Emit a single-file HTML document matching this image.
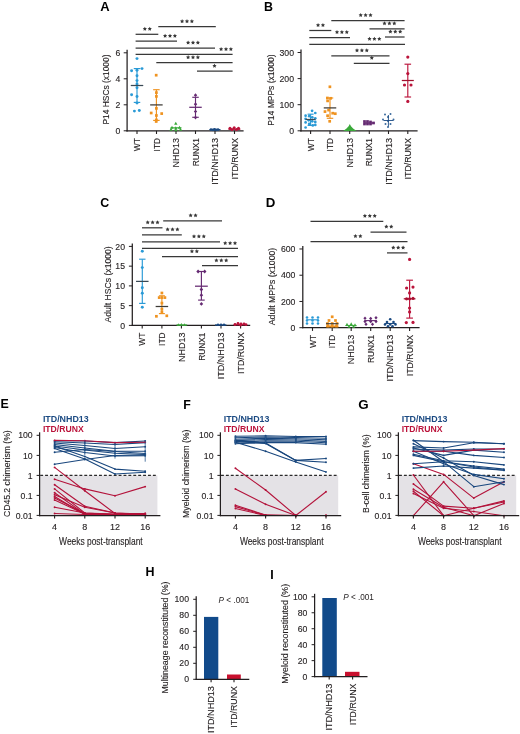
<!DOCTYPE html>
<html><head><meta charset="utf-8"><style>
html,body{margin:0;padding:0;background:#fff;}
svg{display:block;will-change:transform;font-family:"Liberation Sans", sans-serif;}
</style></head><body>
<svg width="520" height="734" viewBox="0 0 520 734">
<rect width="520" height="734" fill="#fff"/>
<text x="100.3" y="10.6" font-size="12.4" text-anchor="start" fill="#000" font-weight="bold" textLength="9.4" lengthAdjust="spacingAndGlyphs">A</text>
<text x="264" y="10.6" font-size="12.4" text-anchor="start" fill="#000" font-weight="bold">B</text>
<text x="100.2" y="206.6" font-size="12.4" text-anchor="start" fill="#000" font-weight="bold">C</text>
<text x="265.8" y="206.6" font-size="12.4" text-anchor="start" fill="#000" font-weight="bold" textLength="9.6" lengthAdjust="spacingAndGlyphs">D</text>
<text x="0.6" y="407.7" font-size="12.4" text-anchor="start" fill="#000" font-weight="bold">E</text>
<text x="183.2" y="408.6" font-size="12.4" text-anchor="start" fill="#000" font-weight="bold">F</text>
<text x="358.2" y="408.7" font-size="12.4" text-anchor="start" fill="#000" font-weight="bold" textLength="10.4" lengthAdjust="spacingAndGlyphs">G</text>
<text x="145.6" y="575.9" font-size="12.4" text-anchor="start" fill="#000" font-weight="bold" textLength="9" lengthAdjust="spacingAndGlyphs">H</text>
<text x="270.2" y="579.3" font-size="12.4" text-anchor="start" fill="#000" font-weight="bold">I</text>
<line x1="127.1" y1="49.8" x2="127.1" y2="131.4" stroke="#231f20" stroke-width="1.25" stroke-linecap="butt"/>
<line x1="126.5" y1="130.8" x2="243.6" y2="130.8" stroke="#231f20" stroke-width="1.25" stroke-linecap="butt"/>
<line x1="123.7" y1="130.8" x2="127.1" y2="130.8" stroke="#231f20" stroke-width="1.0" stroke-linecap="butt"/>
<text x="120.4" y="133.9" font-size="8.7" text-anchor="end" fill="#231f20" stroke="#231f20" stroke-width="0.12">0</text>
<line x1="123.7" y1="104.8" x2="127.1" y2="104.8" stroke="#231f20" stroke-width="1.0" stroke-linecap="butt"/>
<text x="120.4" y="107.9" font-size="8.7" text-anchor="end" fill="#231f20" stroke="#231f20" stroke-width="0.12">2</text>
<line x1="123.7" y1="78.8" x2="127.1" y2="78.8" stroke="#231f20" stroke-width="1.0" stroke-linecap="butt"/>
<text x="120.4" y="81.9" font-size="8.7" text-anchor="end" fill="#231f20" stroke="#231f20" stroke-width="0.12">4</text>
<line x1="123.7" y1="52.8" x2="127.1" y2="52.8" stroke="#231f20" stroke-width="1.0" stroke-linecap="butt"/>
<text x="120.4" y="55.9" font-size="8.7" text-anchor="end" fill="#231f20" stroke="#231f20" stroke-width="0.12">6</text>
<line x1="137" y1="130.8" x2="137" y2="134" stroke="#231f20" stroke-width="1.1" stroke-linecap="butt"/>
<line x1="156.5" y1="130.8" x2="156.5" y2="134" stroke="#231f20" stroke-width="1.1" stroke-linecap="butt"/>
<line x1="176" y1="130.8" x2="176" y2="134" stroke="#231f20" stroke-width="1.1" stroke-linecap="butt"/>
<line x1="195.5" y1="130.8" x2="195.5" y2="134" stroke="#231f20" stroke-width="1.1" stroke-linecap="butt"/>
<line x1="215" y1="130.8" x2="215" y2="134" stroke="#231f20" stroke-width="1.1" stroke-linecap="butt"/>
<line x1="234.5" y1="130.8" x2="234.5" y2="134" stroke="#231f20" stroke-width="1.1" stroke-linecap="butt"/>
<text x="140.1" y="138" font-size="8.8" text-anchor="end" fill="#231f20" transform="rotate(-90 140.1 138)" textLength="13.2" lengthAdjust="spacingAndGlyphs" stroke="#231f20" stroke-width="0.12">WT</text>
<text x="159.6" y="138" font-size="8.8" text-anchor="end" fill="#231f20" transform="rotate(-90 159.6 138)" textLength="13.4" lengthAdjust="spacingAndGlyphs" stroke="#231f20" stroke-width="0.12">ITD</text>
<text x="179.1" y="138" font-size="8.8" text-anchor="end" fill="#231f20" transform="rotate(-90 179.1 138)" textLength="29.5" lengthAdjust="spacingAndGlyphs" stroke="#231f20" stroke-width="0.12">NHD13</text>
<text x="198.6" y="138" font-size="8.8" text-anchor="end" fill="#231f20" transform="rotate(-90 198.6 138)" textLength="28.3" lengthAdjust="spacingAndGlyphs" stroke="#231f20" stroke-width="0.12">RUNX1</text>
<text x="218.1" y="138" font-size="8.8" text-anchor="end" fill="#231f20" transform="rotate(-90 218.1 138)" textLength="46.8" lengthAdjust="spacingAndGlyphs" stroke="#231f20" stroke-width="0.12">ITD/NHD13</text>
<text x="237.6" y="138" font-size="8.8" text-anchor="end" fill="#231f20" transform="rotate(-90 237.6 138)" textLength="41.4" lengthAdjust="spacingAndGlyphs" stroke="#231f20" stroke-width="0.12">ITD/RUNX</text>
<text x="108.7" y="89.5" font-size="8.4" text-anchor="middle" fill="#231f20" transform="rotate(-90 108.7 89.5)" textLength="70" lengthAdjust="spacingAndGlyphs" stroke="#231f20" stroke-width="0.12">P14 HSCs (x1000)</text>
<line x1="135.6" y1="34.3" x2="158.3" y2="34.3" stroke="#383838" stroke-width="1.25" stroke-linecap="butt"/>
<polygon points="144.85,26.8 145.5,28.11 146.94,28.32 145.9,29.34 146.14,30.78 144.85,30.1 143.56,30.78 143.8,29.34 142.76,28.32 144.2,28.11" fill="#383838"/>
<polygon points="149.75,26.8 150.4,28.11 151.84,28.32 150.8,29.34 151.04,30.78 149.75,30.1 148.46,30.78 148.7,29.34 147.66,28.32 149.1,28.11" fill="#383838"/>
<line x1="158.3" y1="26.6" x2="215.8" y2="26.6" stroke="#383838" stroke-width="1.25" stroke-linecap="butt"/>
<polygon points="182.1,19.1 182.75,20.41 184.19,20.62 183.15,21.64 183.39,23.08 182.1,22.4 180.81,23.08 181.05,21.64 180.01,20.62 181.45,20.41" fill="#383838"/>
<polygon points="187,19.1 187.65,20.41 189.09,20.62 188.05,21.64 188.29,23.08 187,22.4 185.71,23.08 185.95,21.64 184.91,20.62 186.35,20.41" fill="#383838"/>
<polygon points="191.9,19.1 192.55,20.41 193.99,20.62 192.95,21.64 193.19,23.08 191.9,22.4 190.61,23.08 190.85,21.64 189.81,20.62 191.25,20.41" fill="#383838"/>
<line x1="135.6" y1="41.2" x2="177" y2="41.2" stroke="#383838" stroke-width="1.25" stroke-linecap="butt"/>
<polygon points="165.1,33.7 165.75,35.01 167.19,35.22 166.15,36.24 166.39,37.68 165.1,37 163.81,37.68 164.05,36.24 163.01,35.22 164.45,35.01" fill="#383838"/>
<polygon points="170,33.7 170.65,35.01 172.09,35.22 171.05,36.24 171.29,37.68 170,37 168.71,37.68 168.95,36.24 167.91,35.22 169.35,35.01" fill="#383838"/>
<polygon points="174.9,33.7 175.55,35.01 176.99,35.22 175.95,36.24 176.19,37.68 174.9,37 173.61,37.68 173.85,36.24 172.81,35.22 174.25,35.01" fill="#383838"/>
<line x1="135.6" y1="48" x2="215" y2="48" stroke="#383838" stroke-width="1.25" stroke-linecap="butt"/>
<polygon points="188.1,40.5 188.75,41.81 190.19,42.02 189.15,43.04 189.39,44.48 188.1,43.8 186.81,44.48 187.05,43.04 186.01,42.02 187.45,41.81" fill="#383838"/>
<polygon points="193,40.5 193.65,41.81 195.09,42.02 194.05,43.04 194.29,44.48 193,43.8 191.71,44.48 191.95,43.04 190.91,42.02 192.35,41.81" fill="#383838"/>
<polygon points="197.9,40.5 198.55,41.81 199.99,42.02 198.95,43.04 199.19,44.48 197.9,43.8 196.61,44.48 196.85,43.04 195.81,42.02 197.25,41.81" fill="#383838"/>
<line x1="135.6" y1="54.4" x2="232.6" y2="54.4" stroke="#383838" stroke-width="1.25" stroke-linecap="butt"/>
<polygon points="221.1,46.9 221.75,48.21 223.19,48.42 222.15,49.44 222.39,50.88 221.1,50.2 219.81,50.88 220.05,49.44 219.01,48.42 220.45,48.21" fill="#383838"/>
<polygon points="226,46.9 226.65,48.21 228.09,48.42 227.05,49.44 227.29,50.88 226,50.2 224.71,50.88 224.95,49.44 223.91,48.42 225.35,48.21" fill="#383838"/>
<polygon points="230.9,46.9 231.55,48.21 232.99,48.42 231.95,49.44 232.19,50.88 230.9,50.2 229.61,50.88 229.85,49.44 228.81,48.42 230.25,48.21" fill="#383838"/>
<line x1="156.3" y1="62.6" x2="232.6" y2="62.6" stroke="#383838" stroke-width="1.25" stroke-linecap="butt"/>
<polygon points="188.1,55.1 188.75,56.41 190.19,56.62 189.15,57.64 189.39,59.08 188.1,58.4 186.81,59.08 187.05,57.64 186.01,56.62 187.45,56.41" fill="#383838"/>
<polygon points="193,55.1 193.65,56.41 195.09,56.62 194.05,57.64 194.29,59.08 193,58.4 191.71,59.08 191.95,57.64 190.91,56.62 192.35,56.41" fill="#383838"/>
<polygon points="197.9,55.1 198.55,56.41 199.99,56.62 198.95,57.64 199.19,59.08 197.9,58.4 196.61,59.08 196.85,57.64 195.81,56.62 197.25,56.41" fill="#383838"/>
<line x1="197" y1="71.2" x2="232.6" y2="71.2" stroke="#383838" stroke-width="1.25" stroke-linecap="butt"/>
<polygon points="214.5,63.7 215.15,65.01 216.59,65.22 215.55,66.24 215.79,67.68 214.5,67 213.21,67.68 213.45,66.24 212.41,65.22 213.85,65.01" fill="#383838"/>
<circle cx="137" cy="58.6" r="1.4749999999999999" fill="#2a9ad6"/>
<circle cx="131.6" cy="70.8" r="1.4749999999999999" fill="#2a9ad6"/>
<circle cx="142" cy="68.6" r="1.4749999999999999" fill="#2a9ad6"/>
<circle cx="137" cy="70.3" r="1.4749999999999999" fill="#2a9ad6"/>
<circle cx="137" cy="75.7" r="1.4749999999999999" fill="#2a9ad6"/>
<circle cx="137" cy="80.6" r="1.4749999999999999" fill="#2a9ad6"/>
<circle cx="137" cy="83.9" r="1.4749999999999999" fill="#2a9ad6"/>
<circle cx="137" cy="87.7" r="1.4749999999999999" fill="#2a9ad6"/>
<circle cx="131.6" cy="94.8" r="1.4749999999999999" fill="#2a9ad6"/>
<circle cx="137" cy="96.4" r="1.4749999999999999" fill="#2a9ad6"/>
<circle cx="137" cy="103" r="1.4749999999999999" fill="#2a9ad6"/>
<circle cx="134.4" cy="111.1" r="1.4749999999999999" fill="#2a9ad6"/>
<circle cx="139.3" cy="110.4" r="1.4749999999999999" fill="#2a9ad6"/>
<line x1="137" y1="68.6" x2="137" y2="102.4" stroke="#2a9ad6" stroke-width="1.15" stroke-linecap="butt"/>
<line x1="133.75" y1="68.6" x2="140.25" y2="68.6" stroke="#2a9ad6" stroke-width="1.15" stroke-linecap="butt"/>
<line x1="133.75" y1="102.4" x2="140.25" y2="102.4" stroke="#2a9ad6" stroke-width="1.15" stroke-linecap="butt"/>
<line x1="130.75" y1="85.5" x2="143.25" y2="85.5" stroke="#3a4a55" stroke-width="1.25" stroke-linecap="butt"/>
<rect x="154.84" y="73.84" width="2.71" height="2.71" fill="#ef9320"/>
<rect x="155.04" y="91.24" width="2.71" height="2.71" fill="#ef9320"/>
<rect x="155.04" y="95.04" width="2.71" height="2.71" fill="#ef9320"/>
<rect x="155.04" y="107.04" width="2.71" height="2.71" fill="#ef9320"/>
<rect x="149.84" y="111.64" width="2.71" height="2.71" fill="#ef9320"/>
<rect x="160.34" y="112.24" width="2.71" height="2.71" fill="#ef9320"/>
<rect x="155.04" y="114.14" width="2.71" height="2.71" fill="#ef9320"/>
<rect x="155.04" y="118.54" width="2.71" height="2.71" fill="#ef9320"/>
<rect x="154.84" y="120.14" width="2.71" height="2.71" fill="#ef9320"/>
<line x1="156.4" y1="89.7" x2="156.4" y2="120.4" stroke="#ef9320" stroke-width="1.15" stroke-linecap="butt"/>
<line x1="153.15" y1="89.7" x2="159.65" y2="89.7" stroke="#ef9320" stroke-width="1.15" stroke-linecap="butt"/>
<line x1="153.15" y1="120.4" x2="159.65" y2="120.4" stroke="#ef9320" stroke-width="1.15" stroke-linecap="butt"/>
<line x1="150.15" y1="104.9" x2="162.65" y2="104.9" stroke="#3d3a35" stroke-width="1.25" stroke-linecap="butt"/>
<polygon points="175.8,121.76 174.1,124.87 177.5,124.87" fill="#3aa93a"/>
<polygon points="172,125.66 170.3,128.77 173.7,128.77" fill="#3aa93a"/>
<polygon points="179.5,125.66 177.8,128.77 181.2,128.77" fill="#3aa93a"/>
<polygon points="175.8,126.36 174.1,129.47 177.5,129.47" fill="#3aa93a"/>
<polygon points="171,127.66 169.3,130.77 172.7,130.77" fill="#3aa93a"/>
<polygon points="180.5,127.66 178.8,130.77 182.2,130.77" fill="#3aa93a"/>
<polygon points="175.8,128.16 174.1,131.27 177.5,131.27" fill="#3aa93a"/>
<line x1="170.5" y1="127.8" x2="181.5" y2="127.8" stroke="#3aa93a" stroke-width="1.1" stroke-linecap="butt"/>
<polygon points="195.5,93.36 193.8,95.2 195.5,97.04 197.2,95.2" fill="#652a72"/>
<polygon points="195.5,102.36 193.8,104.2 195.5,106.04 197.2,104.2" fill="#652a72"/>
<polygon points="195.5,109.66 193.8,111.5 195.5,113.34 197.2,111.5" fill="#652a72"/>
<polygon points="195.5,115.76 193.8,117.6 195.5,119.44 197.2,117.6" fill="#652a72"/>
<line x1="195.5" y1="97.3" x2="195.5" y2="117.3" stroke="#652a72" stroke-width="1.15" stroke-linecap="butt"/>
<line x1="192.25" y1="97.3" x2="198.75" y2="97.3" stroke="#652a72" stroke-width="1.15" stroke-linecap="butt"/>
<line x1="192.25" y1="117.3" x2="198.75" y2="117.3" stroke="#652a72" stroke-width="1.15" stroke-linecap="butt"/>
<line x1="189.25" y1="107.3" x2="201.75" y2="107.3" stroke="#652a72" stroke-width="1.25" stroke-linecap="butt"/>
<circle cx="211" cy="129.6" r="1.3569999999999998" fill="#1b4a82"/>
<circle cx="214.5" cy="129.3" r="1.3569999999999998" fill="#1b4a82"/>
<circle cx="218" cy="129.6" r="1.3569999999999998" fill="#1b4a82"/>
<circle cx="216" cy="129.8" r="1.3569999999999998" fill="#1b4a82"/>
<circle cx="213" cy="129.8" r="1.3569999999999998" fill="#1b4a82"/>
<line x1="209.5" y1="129.6" x2="220.5" y2="129.6" stroke="#1b4a82" stroke-width="1.2" stroke-linecap="butt"/>
<circle cx="230" cy="128.3" r="1.534" fill="#bb143b"/>
<circle cx="234.2" cy="127.8" r="1.534" fill="#bb143b"/>
<circle cx="238.5" cy="128.3" r="1.534" fill="#bb143b"/>
<circle cx="232" cy="129.5" r="1.534" fill="#bb143b"/>
<circle cx="236.5" cy="129.5" r="1.534" fill="#bb143b"/>
<line x1="228.5" y1="129.3" x2="240.3" y2="129.3" stroke="#bb143b" stroke-width="1.2" stroke-linecap="butt"/>
<line x1="301" y1="49.5" x2="301" y2="131.4" stroke="#231f20" stroke-width="1.25" stroke-linecap="butt"/>
<line x1="300.4" y1="130.8" x2="417.6" y2="130.8" stroke="#231f20" stroke-width="1.25" stroke-linecap="butt"/>
<line x1="297.6" y1="130.8" x2="301" y2="130.8" stroke="#231f20" stroke-width="1.0" stroke-linecap="butt"/>
<text x="294" y="133.9" font-size="8.7" text-anchor="end" fill="#231f20" stroke="#231f20" stroke-width="0.12">0</text>
<line x1="297.6" y1="104.7" x2="301" y2="104.7" stroke="#231f20" stroke-width="1.0" stroke-linecap="butt"/>
<text x="294" y="107.8" font-size="8.7" text-anchor="end" fill="#231f20" stroke="#231f20" stroke-width="0.12">100</text>
<line x1="297.6" y1="78.6" x2="301" y2="78.6" stroke="#231f20" stroke-width="1.0" stroke-linecap="butt"/>
<text x="294" y="81.7" font-size="8.7" text-anchor="end" fill="#231f20" stroke="#231f20" stroke-width="0.12">200</text>
<line x1="297.6" y1="52.5" x2="301" y2="52.5" stroke="#231f20" stroke-width="1.0" stroke-linecap="butt"/>
<text x="294" y="55.6" font-size="8.7" text-anchor="end" fill="#231f20" stroke="#231f20" stroke-width="0.12">300</text>
<line x1="310.6" y1="130.8" x2="310.6" y2="134" stroke="#231f20" stroke-width="1.1" stroke-linecap="butt"/>
<line x1="330" y1="130.8" x2="330" y2="134" stroke="#231f20" stroke-width="1.1" stroke-linecap="butt"/>
<line x1="349.7" y1="130.8" x2="349.7" y2="134" stroke="#231f20" stroke-width="1.1" stroke-linecap="butt"/>
<line x1="369.3" y1="130.8" x2="369.3" y2="134" stroke="#231f20" stroke-width="1.1" stroke-linecap="butt"/>
<line x1="388.5" y1="130.8" x2="388.5" y2="134" stroke="#231f20" stroke-width="1.1" stroke-linecap="butt"/>
<line x1="407.8" y1="130.8" x2="407.8" y2="134" stroke="#231f20" stroke-width="1.1" stroke-linecap="butt"/>
<text x="313.7" y="138" font-size="8.8" text-anchor="end" fill="#231f20" transform="rotate(-90 313.7 138)" textLength="13.2" lengthAdjust="spacingAndGlyphs" stroke="#231f20" stroke-width="0.12">WT</text>
<text x="333.1" y="138" font-size="8.8" text-anchor="end" fill="#231f20" transform="rotate(-90 333.1 138)" textLength="13.4" lengthAdjust="spacingAndGlyphs" stroke="#231f20" stroke-width="0.12">ITD</text>
<text x="352.8" y="138" font-size="8.8" text-anchor="end" fill="#231f20" transform="rotate(-90 352.8 138)" textLength="29.5" lengthAdjust="spacingAndGlyphs" stroke="#231f20" stroke-width="0.12">NHD13</text>
<text x="372.4" y="138" font-size="8.8" text-anchor="end" fill="#231f20" transform="rotate(-90 372.4 138)" textLength="28.3" lengthAdjust="spacingAndGlyphs" stroke="#231f20" stroke-width="0.12">RUNX1</text>
<text x="391.6" y="138" font-size="8.8" text-anchor="end" fill="#231f20" transform="rotate(-90 391.6 138)" textLength="46.8" lengthAdjust="spacingAndGlyphs" stroke="#231f20" stroke-width="0.12">ITD/NHD13</text>
<text x="410.9" y="138" font-size="8.8" text-anchor="end" fill="#231f20" transform="rotate(-90 410.9 138)" textLength="41.4" lengthAdjust="spacingAndGlyphs" stroke="#231f20" stroke-width="0.12">ITD/RUNX</text>
<text x="273.6" y="90.1" font-size="8.4" text-anchor="middle" fill="#231f20" transform="rotate(-90 273.6 90.1)" textLength="71.4" lengthAdjust="spacingAndGlyphs" stroke="#231f20" stroke-width="0.12">P14 MPPs (x1000)</text>
<line x1="309.3" y1="30.5" x2="331.3" y2="30.5" stroke="#383838" stroke-width="1.25" stroke-linecap="butt"/>
<polygon points="318.05,23 318.7,24.31 320.14,24.52 319.1,25.54 319.34,26.98 318.05,26.3 316.76,26.98 317,25.54 315.96,24.52 317.4,24.31" fill="#383838"/>
<polygon points="322.95,23 323.6,24.31 325.04,24.52 324,25.54 324.24,26.98 322.95,26.3 321.66,26.98 321.9,25.54 320.86,24.52 322.3,24.31" fill="#383838"/>
<line x1="331.3" y1="20.5" x2="404.6" y2="20.5" stroke="#383838" stroke-width="1.25" stroke-linecap="butt"/>
<polygon points="360.7,13 361.35,14.31 362.79,14.52 361.75,15.54 361.99,16.98 360.7,16.3 359.41,16.98 359.65,15.54 358.61,14.52 360.05,14.31" fill="#383838"/>
<polygon points="365.6,13 366.25,14.31 367.69,14.52 366.65,15.54 366.89,16.98 365.6,16.3 364.31,16.98 364.55,15.54 363.51,14.52 364.95,14.31" fill="#383838"/>
<polygon points="370.5,13 371.15,14.31 372.59,14.52 371.55,15.54 371.79,16.98 370.5,16.3 369.21,16.98 369.45,15.54 368.41,14.52 369.85,14.31" fill="#383838"/>
<line x1="309.3" y1="37.5" x2="350" y2="37.5" stroke="#383838" stroke-width="1.25" stroke-linecap="butt"/>
<polygon points="337,30 337.65,31.31 339.09,31.52 338.05,32.54 338.29,33.98 337,33.3 335.71,33.98 335.95,32.54 334.91,31.52 336.35,31.31" fill="#383838"/>
<polygon points="341.9,30 342.55,31.31 343.99,31.52 342.95,32.54 343.19,33.98 341.9,33.3 340.61,33.98 340.85,32.54 339.81,31.52 341.25,31.31" fill="#383838"/>
<polygon points="346.8,30 347.45,31.31 348.89,31.52 347.85,32.54 348.09,33.98 346.8,33.3 345.51,33.98 345.75,32.54 344.71,31.52 346.15,31.31" fill="#383838"/>
<line x1="369.5" y1="28.8" x2="404.6" y2="28.8" stroke="#383838" stroke-width="1.25" stroke-linecap="butt"/>
<polygon points="384.5,21.3 385.15,22.61 386.59,22.82 385.55,23.84 385.79,25.28 384.5,24.6 383.21,25.28 383.45,23.84 382.41,22.82 383.85,22.61" fill="#383838"/>
<polygon points="389.4,21.3 390.05,22.61 391.49,22.82 390.45,23.84 390.69,25.28 389.4,24.6 388.11,25.28 388.35,23.84 387.31,22.82 388.75,22.61" fill="#383838"/>
<polygon points="394.3,21.3 394.95,22.61 396.39,22.82 395.35,23.84 395.59,25.28 394.3,24.6 393.01,25.28 393.25,23.84 392.21,22.82 393.65,22.61" fill="#383838"/>
<line x1="385" y1="37" x2="404.6" y2="37" stroke="#383838" stroke-width="1.25" stroke-linecap="butt"/>
<polygon points="390.4,29.5 391.05,30.81 392.49,31.02 391.45,32.04 391.69,33.48 390.4,32.8 389.11,33.48 389.35,32.04 388.31,31.02 389.75,30.81" fill="#383838"/>
<polygon points="395.3,29.5 395.95,30.81 397.39,31.02 396.35,32.04 396.59,33.48 395.3,32.8 394.01,33.48 394.25,32.04 393.21,31.02 394.65,30.81" fill="#383838"/>
<polygon points="400.2,29.5 400.85,30.81 402.29,31.02 401.25,32.04 401.49,33.48 400.2,32.8 398.91,33.48 399.15,32.04 398.11,31.02 399.55,30.81" fill="#383838"/>
<line x1="309.3" y1="44.3" x2="405" y2="44.3" stroke="#383838" stroke-width="1.25" stroke-linecap="butt"/>
<polygon points="369.5,36.8 370.15,38.11 371.59,38.32 370.55,39.34 370.79,40.78 369.5,40.1 368.21,40.78 368.45,39.34 367.41,38.32 368.85,38.11" fill="#383838"/>
<polygon points="374.4,36.8 375.05,38.11 376.49,38.32 375.45,39.34 375.69,40.78 374.4,40.1 373.11,40.78 373.35,39.34 372.31,38.32 373.75,38.11" fill="#383838"/>
<polygon points="379.3,36.8 379.95,38.11 381.39,38.32 380.35,39.34 380.59,40.78 379.3,40.1 378.01,40.78 378.25,39.34 377.21,38.32 378.65,38.11" fill="#383838"/>
<line x1="331.3" y1="55.8" x2="389.5" y2="55.8" stroke="#383838" stroke-width="1.25" stroke-linecap="butt"/>
<polygon points="357,48.3 357.65,49.61 359.09,49.82 358.05,50.84 358.29,52.28 357,51.6 355.71,52.28 355.95,50.84 354.91,49.82 356.35,49.61" fill="#383838"/>
<polygon points="361.9,48.3 362.55,49.61 363.99,49.82 362.95,50.84 363.19,52.28 361.9,51.6 360.61,52.28 360.85,50.84 359.81,49.82 361.25,49.61" fill="#383838"/>
<polygon points="366.8,48.3 367.45,49.61 368.89,49.82 367.85,50.84 368.09,52.28 366.8,51.6 365.51,52.28 365.75,50.84 364.71,49.82 366.15,49.61" fill="#383838"/>
<line x1="353.8" y1="63.3" x2="389.5" y2="63.3" stroke="#383838" stroke-width="1.25" stroke-linecap="butt"/>
<polygon points="371.8,55.8 372.45,57.11 373.89,57.32 372.85,58.34 373.09,59.78 371.8,59.1 370.51,59.78 370.75,58.34 369.71,57.32 371.15,57.11" fill="#383838"/>
<circle cx="312.1" cy="110.8" r="1.3569999999999998" fill="#2a9ad6"/>
<circle cx="315.3" cy="113" r="1.3569999999999998" fill="#2a9ad6"/>
<circle cx="305.6" cy="115.7" r="1.3569999999999998" fill="#2a9ad6"/>
<circle cx="309.2" cy="116.2" r="1.3569999999999998" fill="#2a9ad6"/>
<circle cx="312.3" cy="117.3" r="1.3569999999999998" fill="#2a9ad6"/>
<circle cx="315.3" cy="118.3" r="1.3569999999999998" fill="#2a9ad6"/>
<circle cx="305.6" cy="118.8" r="1.3569999999999998" fill="#2a9ad6"/>
<circle cx="308.7" cy="120.3" r="1.3569999999999998" fill="#2a9ad6"/>
<circle cx="312.3" cy="121.3" r="1.3569999999999998" fill="#2a9ad6"/>
<circle cx="315.3" cy="121.9" r="1.3569999999999998" fill="#2a9ad6"/>
<circle cx="305.6" cy="122.4" r="1.3569999999999998" fill="#2a9ad6"/>
<circle cx="309.2" cy="123.9" r="1.3569999999999998" fill="#2a9ad6"/>
<circle cx="312.8" cy="125.4" r="1.3569999999999998" fill="#2a9ad6"/>
<circle cx="305.6" cy="127.5" r="1.3569999999999998" fill="#2a9ad6"/>
<circle cx="315.3" cy="124.9" r="1.3569999999999998" fill="#2a9ad6"/>
<line x1="310.6" y1="114.2" x2="310.6" y2="125.4" stroke="#2a9ad6" stroke-width="1.15" stroke-linecap="butt"/>
<line x1="307.6" y1="114.2" x2="313.6" y2="114.2" stroke="#2a9ad6" stroke-width="1.15" stroke-linecap="butt"/>
<line x1="307.6" y1="125.4" x2="313.6" y2="125.4" stroke="#2a9ad6" stroke-width="1.15" stroke-linecap="butt"/>
<line x1="305.6" y1="119.5" x2="315.6" y2="119.5" stroke="#3a4a55" stroke-width="1.25" stroke-linecap="butt"/>
<rect x="328.54" y="85.44" width="2.71" height="2.71" fill="#ef9320"/>
<rect x="326.04" y="96.64" width="2.71" height="2.71" fill="#ef9320"/>
<rect x="329.34" y="96.94" width="2.71" height="2.71" fill="#ef9320"/>
<rect x="326.24" y="99.54" width="2.71" height="2.71" fill="#ef9320"/>
<rect x="323.64" y="110.24" width="2.71" height="2.71" fill="#ef9320"/>
<rect x="327.24" y="108.74" width="2.71" height="2.71" fill="#ef9320"/>
<rect x="331.34" y="111.84" width="2.71" height="2.71" fill="#ef9320"/>
<rect x="333.94" y="112.34" width="2.71" height="2.71" fill="#ef9320"/>
<rect x="326.24" y="114.34" width="2.71" height="2.71" fill="#ef9320"/>
<rect x="328.34" y="119.94" width="2.71" height="2.71" fill="#ef9320"/>
<line x1="330" y1="98" x2="330" y2="118.3" stroke="#ef9320" stroke-width="1.15" stroke-linecap="butt"/>
<line x1="326.75" y1="98" x2="333.25" y2="98" stroke="#ef9320" stroke-width="1.15" stroke-linecap="butt"/>
<line x1="326.75" y1="118.3" x2="333.25" y2="118.3" stroke="#ef9320" stroke-width="1.15" stroke-linecap="butt"/>
<line x1="323.75" y1="107.9" x2="336.25" y2="107.9" stroke="#3d3a35" stroke-width="1.25" stroke-linecap="butt"/>
<polygon points="343.2,130.9 346.5,128.4 348.6,126.2 349.8,124.0 351.0,126.2 353.1,128.4 356.6,130.9" fill="#3aa93a"/>
<rect x="363.14" y="120.14" width="2.71" height="2.71" fill="#652a72"/>
<rect x="366.14" y="120.14" width="2.71" height="2.71" fill="#652a72"/>
<rect x="369.14" y="120.64" width="2.71" height="2.71" fill="#652a72"/>
<rect x="372.14" y="121.64" width="2.71" height="2.71" fill="#652a72"/>
<rect x="363.14" y="122.64" width="2.71" height="2.71" fill="#652a72"/>
<rect x="366.14" y="122.64" width="2.71" height="2.71" fill="#652a72"/>
<rect x="369.14" y="122.64" width="2.71" height="2.71" fill="#652a72"/>
<line x1="364" y1="123" x2="374.5" y2="123" stroke="#652a72" stroke-width="1.1" stroke-linecap="butt"/>
<circle cx="385" cy="114.5" r="1.003" fill="#3a6a9e"/>
<circle cx="390.5" cy="114" r="1.003" fill="#3a6a9e"/>
<circle cx="388" cy="117" r="1.003" fill="#3a6a9e"/>
<circle cx="383" cy="119.5" r="1.003" fill="#3a6a9e"/>
<circle cx="393.5" cy="119.5" r="1.003" fill="#3a6a9e"/>
<circle cx="388" cy="121" r="1.003" fill="#3a6a9e"/>
<circle cx="385.5" cy="124" r="1.003" fill="#3a6a9e"/>
<circle cx="390.5" cy="124" r="1.003" fill="#3a6a9e"/>
<circle cx="388" cy="127" r="1.003" fill="#3a6a9e"/>
<line x1="388.4" y1="115" x2="388.4" y2="126.5" stroke="#1b4a82" stroke-width="0.9" stroke-linecap="butt"/>
<line x1="383.5" y1="120.5" x2="393.5" y2="120.5" stroke="#1b4a82" stroke-width="0.9" stroke-linecap="butt"/>
<circle cx="407.8" cy="57.1" r="1.593" fill="#bb143b"/>
<circle cx="407.8" cy="73.6" r="1.593" fill="#bb143b"/>
<circle cx="404.5" cy="85" r="1.593" fill="#bb143b"/>
<circle cx="411" cy="85" r="1.593" fill="#bb143b"/>
<circle cx="407.8" cy="101.4" r="1.593" fill="#bb143b"/>
<line x1="407.8" y1="64.2" x2="407.8" y2="97" stroke="#bb143b" stroke-width="1.15" stroke-linecap="butt"/>
<line x1="404.5" y1="64.2" x2="411.1" y2="64.2" stroke="#bb143b" stroke-width="1.15" stroke-linecap="butt"/>
<line x1="404.5" y1="97" x2="411.1" y2="97" stroke="#bb143b" stroke-width="1.15" stroke-linecap="butt"/>
<line x1="401.8" y1="80.5" x2="413.8" y2="80.5" stroke="#a0102e" stroke-width="1.25" stroke-linecap="butt"/>
<line x1="132.3" y1="243.4" x2="132.3" y2="326" stroke="#231f20" stroke-width="1.25" stroke-linecap="butt"/>
<line x1="131.7" y1="325.4" x2="250.2" y2="325.4" stroke="#231f20" stroke-width="1.25" stroke-linecap="butt"/>
<line x1="128.9" y1="325.4" x2="132.3" y2="325.4" stroke="#231f20" stroke-width="1.0" stroke-linecap="butt"/>
<text x="125" y="328.5" font-size="8.7" text-anchor="end" fill="#231f20" stroke="#231f20" stroke-width="0.12">0</text>
<line x1="128.9" y1="305.65" x2="132.3" y2="305.65" stroke="#231f20" stroke-width="1.0" stroke-linecap="butt"/>
<text x="125" y="308.75" font-size="8.7" text-anchor="end" fill="#231f20" stroke="#231f20" stroke-width="0.12">5</text>
<line x1="128.9" y1="285.9" x2="132.3" y2="285.9" stroke="#231f20" stroke-width="1.0" stroke-linecap="butt"/>
<text x="125" y="289" font-size="8.7" text-anchor="end" fill="#231f20" stroke="#231f20" stroke-width="0.12">10</text>
<line x1="128.9" y1="266.15" x2="132.3" y2="266.15" stroke="#231f20" stroke-width="1.0" stroke-linecap="butt"/>
<text x="125" y="269.25" font-size="8.7" text-anchor="end" fill="#231f20" stroke="#231f20" stroke-width="0.12">15</text>
<line x1="128.9" y1="246.4" x2="132.3" y2="246.4" stroke="#231f20" stroke-width="1.0" stroke-linecap="butt"/>
<text x="125" y="249.5" font-size="8.7" text-anchor="end" fill="#231f20" stroke="#231f20" stroke-width="0.12">20</text>
<line x1="142.2" y1="325.4" x2="142.2" y2="328.6" stroke="#231f20" stroke-width="1.1" stroke-linecap="butt"/>
<line x1="161.9" y1="325.4" x2="161.9" y2="328.6" stroke="#231f20" stroke-width="1.1" stroke-linecap="butt"/>
<line x1="181.4" y1="325.4" x2="181.4" y2="328.6" stroke="#231f20" stroke-width="1.1" stroke-linecap="butt"/>
<line x1="201.4" y1="325.4" x2="201.4" y2="328.6" stroke="#231f20" stroke-width="1.1" stroke-linecap="butt"/>
<line x1="221" y1="325.4" x2="221" y2="328.6" stroke="#231f20" stroke-width="1.1" stroke-linecap="butt"/>
<line x1="240.6" y1="325.4" x2="240.6" y2="328.6" stroke="#231f20" stroke-width="1.1" stroke-linecap="butt"/>
<text x="145.3" y="332.5" font-size="8.8" text-anchor="end" fill="#231f20" transform="rotate(-90 145.3 332.5)" textLength="13.2" lengthAdjust="spacingAndGlyphs" stroke="#231f20" stroke-width="0.12">WT</text>
<text x="165" y="332.5" font-size="8.8" text-anchor="end" fill="#231f20" transform="rotate(-90 165 332.5)" textLength="13.4" lengthAdjust="spacingAndGlyphs" stroke="#231f20" stroke-width="0.12">ITD</text>
<text x="184.5" y="332.5" font-size="8.8" text-anchor="end" fill="#231f20" transform="rotate(-90 184.5 332.5)" textLength="29.5" lengthAdjust="spacingAndGlyphs" stroke="#231f20" stroke-width="0.12">NHD13</text>
<text x="204.5" y="332.5" font-size="8.8" text-anchor="end" fill="#231f20" transform="rotate(-90 204.5 332.5)" textLength="28.3" lengthAdjust="spacingAndGlyphs" stroke="#231f20" stroke-width="0.12">RUNX1</text>
<text x="224.1" y="332.5" font-size="8.8" text-anchor="end" fill="#231f20" transform="rotate(-90 224.1 332.5)" textLength="46.8" lengthAdjust="spacingAndGlyphs" stroke="#231f20" stroke-width="0.12">ITD/NHD13</text>
<text x="243.7" y="332.5" font-size="8.8" text-anchor="end" fill="#231f20" transform="rotate(-90 243.7 332.5)" textLength="41.4" lengthAdjust="spacingAndGlyphs" stroke="#231f20" stroke-width="0.12">ITD/RUNX</text>
<text x="110.6" y="284.4" font-size="8.4" text-anchor="middle" fill="#231f20" transform="rotate(-90 110.6 284.4)" textLength="76.2" lengthAdjust="spacingAndGlyphs" stroke="#231f20" stroke-width="0.12">Adult HSCs (x1000)</text>
<line x1="142" y1="227.8" x2="162.5" y2="227.8" stroke="#383838" stroke-width="1.25" stroke-linecap="butt"/>
<polygon points="147.7,220.3 148.35,221.61 149.79,221.82 148.75,222.84 148.99,224.28 147.7,223.6 146.41,224.28 146.65,222.84 145.61,221.82 147.05,221.61" fill="#383838"/>
<polygon points="152.6,220.3 153.25,221.61 154.69,221.82 153.65,222.84 153.89,224.28 152.6,223.6 151.31,224.28 151.55,222.84 150.51,221.82 151.95,221.61" fill="#383838"/>
<polygon points="157.5,220.3 158.15,221.61 159.59,221.82 158.55,222.84 158.79,224.28 157.5,223.6 156.21,224.28 156.45,222.84 155.41,221.82 156.85,221.61" fill="#383838"/>
<line x1="163.2" y1="220.8" x2="222" y2="220.8" stroke="#383838" stroke-width="1.25" stroke-linecap="butt"/>
<polygon points="190.65,213.3 191.3,214.61 192.74,214.82 191.7,215.84 191.94,217.28 190.65,216.6 189.36,217.28 189.6,215.84 188.56,214.82 190,214.61" fill="#383838"/>
<polygon points="195.55,213.3 196.2,214.61 197.64,214.82 196.6,215.84 196.84,217.28 195.55,216.6 194.26,217.28 194.5,215.84 193.46,214.82 194.9,214.61" fill="#383838"/>
<line x1="142" y1="234.8" x2="181.8" y2="234.8" stroke="#383838" stroke-width="1.25" stroke-linecap="butt"/>
<polygon points="167.6,227.3 168.25,228.61 169.69,228.82 168.65,229.84 168.89,231.28 167.6,230.6 166.31,231.28 166.55,229.84 165.51,228.82 166.95,228.61" fill="#383838"/>
<polygon points="172.5,227.3 173.15,228.61 174.59,228.82 173.55,229.84 173.79,231.28 172.5,230.6 171.21,231.28 171.45,229.84 170.41,228.82 171.85,228.61" fill="#383838"/>
<polygon points="177.4,227.3 178.05,228.61 179.49,228.82 178.45,229.84 178.69,231.28 177.4,230.6 176.11,231.28 176.35,229.84 175.31,228.82 176.75,228.61" fill="#383838"/>
<line x1="142" y1="241.8" x2="220" y2="241.8" stroke="#383838" stroke-width="1.25" stroke-linecap="butt"/>
<polygon points="194,234.3 194.65,235.61 196.09,235.82 195.05,236.84 195.29,238.28 194,237.6 192.71,238.28 192.95,236.84 191.91,235.82 193.35,235.61" fill="#383838"/>
<polygon points="198.9,234.3 199.55,235.61 200.99,235.82 199.95,236.84 200.19,238.28 198.9,237.6 197.61,238.28 197.85,236.84 196.81,235.82 198.25,235.61" fill="#383838"/>
<polygon points="203.8,234.3 204.45,235.61 205.89,235.82 204.85,236.84 205.09,238.28 203.8,237.6 202.51,238.28 202.75,236.84 201.71,235.82 203.15,235.61" fill="#383838"/>
<line x1="142" y1="248.4" x2="238" y2="248.4" stroke="#383838" stroke-width="1.25" stroke-linecap="butt"/>
<polygon points="225.2,240.9 225.85,242.21 227.29,242.42 226.25,243.44 226.49,244.88 225.2,244.2 223.91,244.88 224.15,243.44 223.11,242.42 224.55,242.21" fill="#383838"/>
<polygon points="230.1,240.9 230.75,242.21 232.19,242.42 231.15,243.44 231.39,244.88 230.1,244.2 228.81,244.88 229.05,243.44 228.01,242.42 229.45,242.21" fill="#383838"/>
<polygon points="235,240.9 235.65,242.21 237.09,242.42 236.05,243.44 236.29,244.88 235,244.2 233.71,244.88 233.95,243.44 232.91,242.42 234.35,242.21" fill="#383838"/>
<line x1="162" y1="256.6" x2="238" y2="256.6" stroke="#383838" stroke-width="1.25" stroke-linecap="butt"/>
<polygon points="191.95,249.1 192.6,250.41 194.04,250.62 193,251.64 193.24,253.08 191.95,252.4 190.66,253.08 190.9,251.64 189.86,250.62 191.3,250.41" fill="#383838"/>
<polygon points="196.85,249.1 197.5,250.41 198.94,250.62 197.9,251.64 198.14,253.08 196.85,252.4 195.56,253.08 195.8,251.64 194.76,250.62 196.2,250.41" fill="#383838"/>
<line x1="202" y1="265.7" x2="238" y2="265.7" stroke="#383838" stroke-width="1.25" stroke-linecap="butt"/>
<polygon points="216.4,258.2 217.05,259.51 218.49,259.72 217.45,260.74 217.69,262.18 216.4,261.5 215.11,262.18 215.35,260.74 214.31,259.72 215.75,259.51" fill="#383838"/>
<polygon points="221.3,258.2 221.95,259.51 223.39,259.72 222.35,260.74 222.59,262.18 221.3,261.5 220.01,262.18 220.25,260.74 219.21,259.72 220.65,259.51" fill="#383838"/>
<polygon points="226.2,258.2 226.85,259.51 228.29,259.72 227.25,260.74 227.49,262.18 226.2,261.5 224.91,262.18 225.15,260.74 224.11,259.72 225.55,259.51" fill="#383838"/>
<circle cx="142.3" cy="251.3" r="1.4749999999999999" fill="#2a9ad6"/>
<circle cx="142.3" cy="267.6" r="1.4749999999999999" fill="#2a9ad6"/>
<circle cx="142.3" cy="287.8" r="1.4749999999999999" fill="#2a9ad6"/>
<circle cx="142.3" cy="293.3" r="1.4749999999999999" fill="#2a9ad6"/>
<circle cx="142.3" cy="307.2" r="1.4749999999999999" fill="#2a9ad6"/>
<line x1="142.3" y1="259.2" x2="142.3" y2="303.4" stroke="#2a9ad6" stroke-width="1.15" stroke-linecap="butt"/>
<line x1="139.1" y1="259.2" x2="145.5" y2="259.2" stroke="#2a9ad6" stroke-width="1.15" stroke-linecap="butt"/>
<line x1="139.1" y1="303.4" x2="145.5" y2="303.4" stroke="#2a9ad6" stroke-width="1.15" stroke-linecap="butt"/>
<line x1="136.05" y1="281.4" x2="148.55" y2="281.4" stroke="#3a4a55" stroke-width="1.25" stroke-linecap="butt"/>
<rect x="160.54" y="291.64" width="2.71" height="2.71" fill="#ef9320"/>
<rect x="157.84" y="296.24" width="2.71" height="2.71" fill="#ef9320"/>
<rect x="163.54" y="296.24" width="2.71" height="2.71" fill="#ef9320"/>
<rect x="160.54" y="296.24" width="2.71" height="2.71" fill="#ef9320"/>
<rect x="160.54" y="301.74" width="2.71" height="2.71" fill="#ef9320"/>
<rect x="160.54" y="307.94" width="2.71" height="2.71" fill="#ef9320"/>
<rect x="160.54" y="310.94" width="2.71" height="2.71" fill="#ef9320"/>
<rect x="155.04" y="314.94" width="2.71" height="2.71" fill="#ef9320"/>
<rect x="165.44" y="314.44" width="2.71" height="2.71" fill="#ef9320"/>
<line x1="161.9" y1="295.8" x2="161.9" y2="313.6" stroke="#ef9320" stroke-width="1.15" stroke-linecap="butt"/>
<line x1="158.9" y1="295.8" x2="164.9" y2="295.8" stroke="#ef9320" stroke-width="1.15" stroke-linecap="butt"/>
<line x1="158.9" y1="313.6" x2="164.9" y2="313.6" stroke="#ef9320" stroke-width="1.15" stroke-linecap="butt"/>
<line x1="155.65" y1="306.5" x2="168.15" y2="306.5" stroke="#3d3a35" stroke-width="1.25" stroke-linecap="butt"/>
<line x1="176.5" y1="325" x2="187.2" y2="325" stroke="#3aa93a" stroke-width="1.2" stroke-linecap="butt"/>
<polygon points="178.5,323.27 177.08,325.86 179.92,325.86" fill="#3aa93a"/>
<polygon points="181.4,322.97 179.98,325.56 182.82,325.56" fill="#3aa93a"/>
<polygon points="184.5,323.27 183.08,325.86 185.92,325.86" fill="#3aa93a"/>
<polygon points="198.1,269.58 196.33,271.5 198.1,273.42 199.87,271.5" fill="#652a72"/>
<polygon points="204.7,269.58 202.93,271.5 204.7,273.42 206.47,271.5" fill="#652a72"/>
<polygon points="201.4,287.58 199.63,289.5 201.4,291.42 203.17,289.5" fill="#652a72"/>
<polygon points="201.4,293.28 199.63,295.2 201.4,297.12 203.17,295.2" fill="#652a72"/>
<polygon points="201.4,301.98 199.63,303.9 201.4,305.82 203.17,303.9" fill="#652a72"/>
<line x1="201.4" y1="271.5" x2="201.4" y2="300.1" stroke="#652a72" stroke-width="1.15" stroke-linecap="butt"/>
<line x1="198.1" y1="271.5" x2="204.7" y2="271.5" stroke="#652a72" stroke-width="1.15" stroke-linecap="butt"/>
<line x1="198.1" y1="300.1" x2="204.7" y2="300.1" stroke="#652a72" stroke-width="1.15" stroke-linecap="butt"/>
<line x1="195" y1="286.2" x2="207.8" y2="286.2" stroke="#652a72" stroke-width="1.25" stroke-linecap="butt"/>
<line x1="215" y1="325" x2="226.4" y2="325" stroke="#1b4a82" stroke-width="1.3" stroke-linecap="butt"/>
<circle cx="218" cy="324.8" r="1.18" fill="#1b4a82"/>
<circle cx="221" cy="324.6" r="1.18" fill="#1b4a82"/>
<circle cx="224" cy="324.8" r="1.18" fill="#1b4a82"/>
<circle cx="235" cy="324.5" r="1.416" fill="#bb143b"/>
<circle cx="238" cy="323.5" r="1.416" fill="#bb143b"/>
<circle cx="241" cy="324" r="1.416" fill="#bb143b"/>
<circle cx="244" cy="323.8" r="1.416" fill="#bb143b"/>
<circle cx="246" cy="324.6" r="1.416" fill="#bb143b"/>
<circle cx="240.6" cy="325" r="1.416" fill="#bb143b"/>
<line x1="233.7" y1="324.7" x2="246.8" y2="324.7" stroke="#bb143b" stroke-width="1.3" stroke-linecap="butt"/>
<line x1="302.8" y1="245.98" x2="302.8" y2="328.3" stroke="#231f20" stroke-width="1.25" stroke-linecap="butt"/>
<line x1="302.2" y1="327.7" x2="419.6" y2="327.7" stroke="#231f20" stroke-width="1.25" stroke-linecap="butt"/>
<line x1="299.4" y1="327.7" x2="302.8" y2="327.7" stroke="#231f20" stroke-width="1.0" stroke-linecap="butt"/>
<text x="295.4" y="330.8" font-size="8.7" text-anchor="end" fill="#231f20" stroke="#231f20" stroke-width="0.12">0</text>
<line x1="299.4" y1="301.46" x2="302.8" y2="301.46" stroke="#231f20" stroke-width="1.0" stroke-linecap="butt"/>
<text x="295.4" y="304.56" font-size="8.7" text-anchor="end" fill="#231f20" stroke="#231f20" stroke-width="0.12">200</text>
<line x1="299.4" y1="275.22" x2="302.8" y2="275.22" stroke="#231f20" stroke-width="1.0" stroke-linecap="butt"/>
<text x="295.4" y="278.32" font-size="8.7" text-anchor="end" fill="#231f20" stroke="#231f20" stroke-width="0.12">400</text>
<line x1="299.4" y1="248.98" x2="302.8" y2="248.98" stroke="#231f20" stroke-width="1.0" stroke-linecap="butt"/>
<text x="295.4" y="252.08" font-size="8.7" text-anchor="end" fill="#231f20" stroke="#231f20" stroke-width="0.12">600</text>
<line x1="312.5" y1="327.7" x2="312.5" y2="330.9" stroke="#231f20" stroke-width="1.1" stroke-linecap="butt"/>
<line x1="332.2" y1="327.7" x2="332.2" y2="330.9" stroke="#231f20" stroke-width="1.1" stroke-linecap="butt"/>
<line x1="351.2" y1="327.7" x2="351.2" y2="330.9" stroke="#231f20" stroke-width="1.1" stroke-linecap="butt"/>
<line x1="370.7" y1="327.7" x2="370.7" y2="330.9" stroke="#231f20" stroke-width="1.1" stroke-linecap="butt"/>
<line x1="390.2" y1="327.7" x2="390.2" y2="330.9" stroke="#231f20" stroke-width="1.1" stroke-linecap="butt"/>
<line x1="409.6" y1="327.7" x2="409.6" y2="330.9" stroke="#231f20" stroke-width="1.1" stroke-linecap="butt"/>
<text x="315.6" y="334.8" font-size="8.8" text-anchor="end" fill="#231f20" transform="rotate(-90 315.6 334.8)" textLength="13.2" lengthAdjust="spacingAndGlyphs" stroke="#231f20" stroke-width="0.12">WT</text>
<text x="335.3" y="334.8" font-size="8.8" text-anchor="end" fill="#231f20" transform="rotate(-90 335.3 334.8)" textLength="13.4" lengthAdjust="spacingAndGlyphs" stroke="#231f20" stroke-width="0.12">ITD</text>
<text x="354.3" y="334.8" font-size="8.8" text-anchor="end" fill="#231f20" transform="rotate(-90 354.3 334.8)" textLength="29.5" lengthAdjust="spacingAndGlyphs" stroke="#231f20" stroke-width="0.12">NHD13</text>
<text x="373.8" y="334.8" font-size="8.8" text-anchor="end" fill="#231f20" transform="rotate(-90 373.8 334.8)" textLength="28.3" lengthAdjust="spacingAndGlyphs" stroke="#231f20" stroke-width="0.12">RUNX1</text>
<text x="393.3" y="334.8" font-size="8.8" text-anchor="end" fill="#231f20" transform="rotate(-90 393.3 334.8)" textLength="46.8" lengthAdjust="spacingAndGlyphs" stroke="#231f20" stroke-width="0.12">ITD/NHD13</text>
<text x="412.7" y="334.8" font-size="8.8" text-anchor="end" fill="#231f20" transform="rotate(-90 412.7 334.8)" textLength="41.4" lengthAdjust="spacingAndGlyphs" stroke="#231f20" stroke-width="0.12">ITD/RUNX</text>
<text x="274.6" y="286.5" font-size="8.4" text-anchor="middle" fill="#231f20" transform="rotate(-90 274.6 286.5)" textLength="77.5" lengthAdjust="spacingAndGlyphs" stroke="#231f20" stroke-width="0.12">Adult MPPs (x1000)</text>
<line x1="310.5" y1="221.3" x2="383.3" y2="221.3" stroke="#383838" stroke-width="1.25" stroke-linecap="butt"/>
<polygon points="364.9,213.8 365.55,215.11 366.99,215.32 365.95,216.34 366.19,217.78 364.9,217.1 363.61,217.78 363.85,216.34 362.81,215.32 364.25,215.11" fill="#383838"/>
<polygon points="369.8,213.8 370.45,215.11 371.89,215.32 370.85,216.34 371.09,217.78 369.8,217.1 368.51,217.78 368.75,216.34 367.71,215.32 369.15,215.11" fill="#383838"/>
<polygon points="374.7,213.8 375.35,215.11 376.79,215.32 375.75,216.34 375.99,217.78 374.7,217.1 373.41,217.78 373.65,216.34 372.61,215.32 374.05,215.11" fill="#383838"/>
<line x1="370.5" y1="232" x2="406.5" y2="232" stroke="#383838" stroke-width="1.25" stroke-linecap="butt"/>
<polygon points="386.35,224.5 387,225.81 388.44,226.02 387.4,227.04 387.64,228.48 386.35,227.8 385.06,228.48 385.3,227.04 384.26,226.02 385.7,225.81" fill="#383838"/>
<polygon points="391.25,224.5 391.9,225.81 393.34,226.02 392.3,227.04 392.54,228.48 391.25,227.8 389.96,228.48 390.2,227.04 389.16,226.02 390.6,225.81" fill="#383838"/>
<line x1="310.5" y1="241.5" x2="407.5" y2="241.5" stroke="#383838" stroke-width="1.25" stroke-linecap="butt"/>
<polygon points="355.45,234 356.1,235.31 357.54,235.52 356.5,236.54 356.74,237.98 355.45,237.3 354.16,237.98 354.4,236.54 353.36,235.52 354.8,235.31" fill="#383838"/>
<polygon points="360.35,234 361,235.31 362.44,235.52 361.4,236.54 361.64,237.98 360.35,237.3 359.06,237.98 359.3,236.54 358.26,235.52 359.7,235.31" fill="#383838"/>
<line x1="387" y1="252.9" x2="407.5" y2="252.9" stroke="#383838" stroke-width="1.25" stroke-linecap="butt"/>
<polygon points="393.3,245.4 393.95,246.71 395.39,246.92 394.35,247.94 394.59,249.38 393.3,248.7 392.01,249.38 392.25,247.94 391.21,246.92 392.65,246.71" fill="#383838"/>
<polygon points="398.2,245.4 398.85,246.71 400.29,246.92 399.25,247.94 399.49,249.38 398.2,248.7 396.91,249.38 397.15,247.94 396.11,246.92 397.55,246.71" fill="#383838"/>
<polygon points="403.1,245.4 403.75,246.71 405.19,246.92 404.15,247.94 404.39,249.38 403.1,248.7 401.81,249.38 402.05,247.94 401.01,246.92 402.45,246.71" fill="#383838"/>
<circle cx="307" cy="317.5" r="1.298" fill="#2a9ad6"/>
<circle cx="312.5" cy="317.5" r="1.298" fill="#2a9ad6"/>
<circle cx="318" cy="317.5" r="1.298" fill="#2a9ad6"/>
<circle cx="307" cy="320.5" r="1.298" fill="#2a9ad6"/>
<circle cx="312.5" cy="320.5" r="1.298" fill="#2a9ad6"/>
<circle cx="318" cy="320.5" r="1.298" fill="#2a9ad6"/>
<circle cx="307" cy="323.5" r="1.298" fill="#2a9ad6"/>
<circle cx="312.5" cy="323.5" r="1.298" fill="#2a9ad6"/>
<circle cx="318" cy="323.5" r="1.298" fill="#2a9ad6"/>
<line x1="306.5" y1="319.8" x2="318.5" y2="319.8" stroke="#2a9ad6" stroke-width="1.1" stroke-linecap="butt"/>
<rect x="330.84" y="315.44" width="2.71" height="2.71" fill="#ef9320"/>
<rect x="327.64" y="319.14" width="2.71" height="2.71" fill="#ef9320"/>
<rect x="334.14" y="319.14" width="2.71" height="2.71" fill="#ef9320"/>
<rect x="326.14" y="322.14" width="2.71" height="2.71" fill="#ef9320"/>
<rect x="330.84" y="322.14" width="2.71" height="2.71" fill="#ef9320"/>
<rect x="335.64" y="322.14" width="2.71" height="2.71" fill="#ef9320"/>
<rect x="326.64" y="324.64" width="2.71" height="2.71" fill="#ef9320"/>
<rect x="330.84" y="324.64" width="2.71" height="2.71" fill="#ef9320"/>
<rect x="335.14" y="324.64" width="2.71" height="2.71" fill="#ef9320"/>
<line x1="326" y1="323.7" x2="338.5" y2="323.7" stroke="#3d3a35" stroke-width="1.1" stroke-linecap="butt"/>
<line x1="326" y1="326.4" x2="338.5" y2="326.4" stroke="#ef9320" stroke-width="1.8" stroke-linecap="butt"/>
<polygon points="347,322.81 345.44,325.67 348.56,325.67" fill="#3aa93a"/>
<polygon points="351.2,322.31 349.64,325.17 352.76,325.17" fill="#3aa93a"/>
<polygon points="355,323.31 353.44,326.17 356.56,326.17" fill="#3aa93a"/>
<polygon points="349,324.81 347.44,327.67 350.56,327.67" fill="#3aa93a"/>
<polygon points="353.5,324.81 351.94,327.67 355.06,327.67" fill="#3aa93a"/>
<line x1="345.5" y1="325.5" x2="356.5" y2="325.5" stroke="#3aa93a" stroke-width="1.1" stroke-linecap="butt"/>
<polygon points="365,316.44 363.37,318.2 365,319.96 366.63,318.2" fill="#652a72"/>
<polygon points="370.7,316.74 369.07,318.5 370.7,320.26 372.33,318.5" fill="#652a72"/>
<polygon points="376,316.04 374.37,317.8 376,319.56 377.63,317.8" fill="#652a72"/>
<polygon points="365,319.74 363.37,321.5 365,323.26 366.63,321.5" fill="#652a72"/>
<polygon points="370.7,319.74 369.07,321.5 370.7,323.26 372.33,321.5" fill="#652a72"/>
<polygon points="376,319.74 374.37,321.5 376,323.26 377.63,321.5" fill="#652a72"/>
<polygon points="366,322.54 364.37,324.3 366,326.06 367.63,324.3" fill="#652a72"/>
<polygon points="372.5,322.54 370.87,324.3 372.5,326.06 374.13,324.3" fill="#652a72"/>
<line x1="364.5" y1="320.6" x2="376.8" y2="320.6" stroke="#652a72" stroke-width="1.1" stroke-linecap="butt"/>
<circle cx="390.2" cy="319.2" r="1.298" fill="#1b4a82"/>
<circle cx="387" cy="322" r="1.298" fill="#1b4a82"/>
<circle cx="393.5" cy="322" r="1.298" fill="#1b4a82"/>
<circle cx="385" cy="324.5" r="1.298" fill="#1b4a82"/>
<circle cx="390.2" cy="324.5" r="1.298" fill="#1b4a82"/>
<circle cx="395.5" cy="324.5" r="1.298" fill="#1b4a82"/>
<circle cx="388" cy="326.2" r="1.298" fill="#1b4a82"/>
<circle cx="392.5" cy="326.2" r="1.298" fill="#1b4a82"/>
<line x1="384.6" y1="323.5" x2="396.2" y2="323.5" stroke="#1b4a82" stroke-width="1.1" stroke-linecap="butt"/>
<circle cx="409.6" cy="259.4" r="1.593" fill="#bb143b"/>
<circle cx="406.6" cy="288" r="1.593" fill="#bb143b"/>
<circle cx="413" cy="287.1" r="1.593" fill="#bb143b"/>
<circle cx="409.6" cy="292.9" r="1.593" fill="#bb143b"/>
<circle cx="406.6" cy="298.8" r="1.593" fill="#bb143b"/>
<circle cx="409.6" cy="298.8" r="1.593" fill="#bb143b"/>
<circle cx="413" cy="298.4" r="1.593" fill="#bb143b"/>
<circle cx="409.6" cy="308" r="1.593" fill="#bb143b"/>
<circle cx="409.6" cy="311.9" r="1.593" fill="#bb143b"/>
<circle cx="406.3" cy="322.6" r="1.593" fill="#bb143b"/>
<circle cx="413" cy="322.4" r="1.593" fill="#bb143b"/>
<line x1="409.6" y1="280.2" x2="409.6" y2="318.1" stroke="#bb143b" stroke-width="1.15" stroke-linecap="butt"/>
<line x1="406.25" y1="280.2" x2="412.95" y2="280.2" stroke="#bb143b" stroke-width="1.15" stroke-linecap="butt"/>
<line x1="406.25" y1="318.1" x2="412.95" y2="318.1" stroke="#bb143b" stroke-width="1.15" stroke-linecap="butt"/>
<line x1="403.75" y1="298.8" x2="415.45" y2="298.8" stroke="#a0102e" stroke-width="1.25" stroke-linecap="butt"/>
<rect x="39.6" y="475.4" width="117.8" height="40.2" fill="#e4e2e6"/>
<line x1="40.2" y1="475.4" x2="157.4" y2="475.4" stroke="#2a2a2a" stroke-width="1.1" stroke-linecap="butt" stroke-dasharray="2.9,2.0"/>
<polyline points="54.6,467.4 84.8,490.8 115,513.5 145.2,514" fill="none" stroke="#b3123a" stroke-width="1.1" stroke-linejoin="round"/>
<circle cx="54.6" cy="467.4" r="0.95" fill="#b3123a"/>
<circle cx="84.8" cy="490.8" r="0.95" fill="#b3123a"/>
<circle cx="115" cy="513.5" r="0.95" fill="#b3123a"/>
<circle cx="145.2" cy="514" r="0.95" fill="#b3123a"/>
<polyline points="54.6,479.3 84.8,488.9 115,495.7 145.2,486.6" fill="none" stroke="#b3123a" stroke-width="1.1" stroke-linejoin="round"/>
<circle cx="54.6" cy="479.3" r="0.95" fill="#b3123a"/>
<circle cx="84.8" cy="488.9" r="0.95" fill="#b3123a"/>
<circle cx="115" cy="495.7" r="0.95" fill="#b3123a"/>
<circle cx="145.2" cy="486.6" r="0.95" fill="#b3123a"/>
<polyline points="54.6,484.7 84.8,506.2 115,513 145.2,514.5" fill="none" stroke="#b3123a" stroke-width="1.1" stroke-linejoin="round"/>
<circle cx="54.6" cy="484.7" r="0.95" fill="#b3123a"/>
<circle cx="84.8" cy="506.2" r="0.95" fill="#b3123a"/>
<circle cx="115" cy="513" r="0.95" fill="#b3123a"/>
<circle cx="145.2" cy="514.5" r="0.95" fill="#b3123a"/>
<polyline points="54.6,488.9 84.8,513 115,514.5 145.2,514.5" fill="none" stroke="#b3123a" stroke-width="1.1" stroke-linejoin="round"/>
<circle cx="54.6" cy="488.9" r="0.95" fill="#b3123a"/>
<circle cx="84.8" cy="513" r="0.95" fill="#b3123a"/>
<circle cx="115" cy="514.5" r="0.95" fill="#b3123a"/>
<circle cx="145.2" cy="514.5" r="0.95" fill="#b3123a"/>
<polyline points="54.6,492.8 84.8,514 115,514.5 145.2,515" fill="none" stroke="#b3123a" stroke-width="1.1" stroke-linejoin="round"/>
<circle cx="54.6" cy="492.8" r="0.95" fill="#b3123a"/>
<circle cx="84.8" cy="514" r="0.95" fill="#b3123a"/>
<circle cx="115" cy="514.5" r="0.95" fill="#b3123a"/>
<circle cx="145.2" cy="515" r="0.95" fill="#b3123a"/>
<polyline points="54.6,494.7 84.8,507.2 115,513 145.2,514" fill="none" stroke="#b3123a" stroke-width="1.1" stroke-linejoin="round"/>
<circle cx="54.6" cy="494.7" r="0.95" fill="#b3123a"/>
<circle cx="84.8" cy="507.2" r="0.95" fill="#b3123a"/>
<circle cx="115" cy="513" r="0.95" fill="#b3123a"/>
<circle cx="145.2" cy="514" r="0.95" fill="#b3123a"/>
<polyline points="54.6,496.5 84.8,514.5 115,515 145.2,513.5" fill="none" stroke="#b3123a" stroke-width="1.1" stroke-linejoin="round"/>
<circle cx="54.6" cy="496.5" r="0.95" fill="#b3123a"/>
<circle cx="84.8" cy="514.5" r="0.95" fill="#b3123a"/>
<circle cx="115" cy="515" r="0.95" fill="#b3123a"/>
<circle cx="145.2" cy="513.5" r="0.95" fill="#b3123a"/>
<polyline points="54.6,498 84.8,513.5 115,514.5 145.2,514.5" fill="none" stroke="#b3123a" stroke-width="1.1" stroke-linejoin="round"/>
<circle cx="54.6" cy="498" r="0.95" fill="#b3123a"/>
<circle cx="84.8" cy="513.5" r="0.95" fill="#b3123a"/>
<circle cx="115" cy="514.5" r="0.95" fill="#b3123a"/>
<circle cx="145.2" cy="514.5" r="0.95" fill="#b3123a"/>
<polyline points="54.6,500 84.8,514 115,515 145.2,515" fill="none" stroke="#b3123a" stroke-width="1.1" stroke-linejoin="round"/>
<circle cx="54.6" cy="500" r="0.95" fill="#b3123a"/>
<circle cx="84.8" cy="514" r="0.95" fill="#b3123a"/>
<circle cx="115" cy="515" r="0.95" fill="#b3123a"/>
<circle cx="145.2" cy="515" r="0.95" fill="#b3123a"/>
<polyline points="54.6,507.2 84.8,513 115,514 145.2,514" fill="none" stroke="#b3123a" stroke-width="1.1" stroke-linejoin="round"/>
<circle cx="54.6" cy="507.2" r="0.95" fill="#b3123a"/>
<circle cx="84.8" cy="513" r="0.95" fill="#b3123a"/>
<circle cx="115" cy="514" r="0.95" fill="#b3123a"/>
<circle cx="145.2" cy="514" r="0.95" fill="#b3123a"/>
<polyline points="54.6,513.5 84.8,514.5 115,514.5 145.2,513.5" fill="none" stroke="#b3123a" stroke-width="1.1" stroke-linejoin="round"/>
<circle cx="54.6" cy="513.5" r="0.95" fill="#b3123a"/>
<circle cx="84.8" cy="514.5" r="0.95" fill="#b3123a"/>
<circle cx="115" cy="514.5" r="0.95" fill="#b3123a"/>
<circle cx="145.2" cy="513.5" r="0.95" fill="#b3123a"/>
<polyline points="54.6,440.8 84.8,441 115,442.6 145.2,441" fill="none" stroke="#18467d" stroke-width="1.1" stroke-linejoin="round"/>
<circle cx="54.6" cy="440.8" r="0.95" fill="#18467d"/>
<circle cx="84.8" cy="441" r="0.95" fill="#18467d"/>
<circle cx="115" cy="442.6" r="0.95" fill="#18467d"/>
<circle cx="145.2" cy="441" r="0.95" fill="#18467d"/>
<polyline points="54.6,441.8 84.8,443 115,444.5 145.2,442.6" fill="none" stroke="#18467d" stroke-width="1.1" stroke-linejoin="round"/>
<circle cx="54.6" cy="441.8" r="0.95" fill="#18467d"/>
<circle cx="84.8" cy="443" r="0.95" fill="#18467d"/>
<circle cx="115" cy="444.5" r="0.95" fill="#18467d"/>
<circle cx="145.2" cy="442.6" r="0.95" fill="#18467d"/>
<polyline points="54.6,443 84.8,445.5 115,448.5 145.2,446.8" fill="none" stroke="#18467d" stroke-width="1.1" stroke-linejoin="round"/>
<circle cx="54.6" cy="443" r="0.95" fill="#18467d"/>
<circle cx="84.8" cy="445.5" r="0.95" fill="#18467d"/>
<circle cx="115" cy="448.5" r="0.95" fill="#18467d"/>
<circle cx="145.2" cy="446.8" r="0.95" fill="#18467d"/>
<polyline points="54.6,444.5 84.8,448 115,451.2 145.2,451.2" fill="none" stroke="#18467d" stroke-width="1.1" stroke-linejoin="round"/>
<circle cx="54.6" cy="444.5" r="0.95" fill="#18467d"/>
<circle cx="84.8" cy="448" r="0.95" fill="#18467d"/>
<circle cx="115" cy="451.2" r="0.95" fill="#18467d"/>
<circle cx="145.2" cy="451.2" r="0.95" fill="#18467d"/>
<polyline points="54.6,446 84.8,450 115,453.3 145.2,454.5" fill="none" stroke="#18467d" stroke-width="1.1" stroke-linejoin="round"/>
<circle cx="54.6" cy="446" r="0.95" fill="#18467d"/>
<circle cx="84.8" cy="450" r="0.95" fill="#18467d"/>
<circle cx="115" cy="453.3" r="0.95" fill="#18467d"/>
<circle cx="145.2" cy="454.5" r="0.95" fill="#18467d"/>
<polyline points="54.6,447.5 84.8,452.5 115,456 145.2,455.8" fill="none" stroke="#18467d" stroke-width="1.1" stroke-linejoin="round"/>
<circle cx="54.6" cy="447.5" r="0.95" fill="#18467d"/>
<circle cx="84.8" cy="452.5" r="0.95" fill="#18467d"/>
<circle cx="115" cy="456" r="0.95" fill="#18467d"/>
<circle cx="145.2" cy="455.8" r="0.95" fill="#18467d"/>
<polyline points="54.6,452.3 84.8,449.5 115,451.5 145.2,453.5" fill="none" stroke="#18467d" stroke-width="1.1" stroke-linejoin="round"/>
<circle cx="54.6" cy="452.3" r="0.95" fill="#18467d"/>
<circle cx="84.8" cy="449.5" r="0.95" fill="#18467d"/>
<circle cx="115" cy="451.5" r="0.95" fill="#18467d"/>
<circle cx="145.2" cy="453.5" r="0.95" fill="#18467d"/>
<polyline points="54.6,446 84.8,456.6 115,469.1 145.2,471.3" fill="none" stroke="#18467d" stroke-width="1.1" stroke-linejoin="round"/>
<circle cx="54.6" cy="446" r="0.95" fill="#18467d"/>
<circle cx="84.8" cy="456.6" r="0.95" fill="#18467d"/>
<circle cx="115" cy="469.1" r="0.95" fill="#18467d"/>
<circle cx="145.2" cy="471.3" r="0.95" fill="#18467d"/>
<polyline points="54.6,448.4 84.8,459 115,474 145.2,472.3" fill="none" stroke="#18467d" stroke-width="1.1" stroke-linejoin="round"/>
<circle cx="54.6" cy="448.4" r="0.95" fill="#18467d"/>
<circle cx="84.8" cy="459" r="0.95" fill="#18467d"/>
<circle cx="115" cy="474" r="0.95" fill="#18467d"/>
<circle cx="145.2" cy="472.3" r="0.95" fill="#18467d"/>
<polyline points="54.6,464.3 84.8,459.5 115,455.5 145.2,455" fill="none" stroke="#18467d" stroke-width="1.1" stroke-linejoin="round"/>
<circle cx="54.6" cy="464.3" r="0.95" fill="#18467d"/>
<circle cx="84.8" cy="459.5" r="0.95" fill="#18467d"/>
<circle cx="115" cy="455.5" r="0.95" fill="#18467d"/>
<circle cx="145.2" cy="455" r="0.95" fill="#18467d"/>
<polyline points="54.6,440.4 84.8,440.8 115,442.6 145.2,442.2" fill="none" stroke="#b3123a" stroke-width="1.1" stroke-linejoin="round"/>
<circle cx="54.6" cy="440.4" r="0.95" fill="#b3123a"/>
<circle cx="84.8" cy="440.8" r="0.95" fill="#b3123a"/>
<circle cx="115" cy="442.6" r="0.95" fill="#b3123a"/>
<circle cx="145.2" cy="442.2" r="0.95" fill="#b3123a"/>
<line x1="84.8" y1="440.3" x2="84.8" y2="455.6" stroke="#2b5a8e" stroke-width="0.8" stroke-linecap="butt"/>
<line x1="115" y1="442.7" x2="115" y2="458.6" stroke="#2b5a8e" stroke-width="0.8" stroke-linecap="butt"/>
<line x1="145.2" y1="440.6" x2="145.2" y2="461.7" stroke="#2b5a8e" stroke-width="0.8" stroke-linecap="butt"/>
<line x1="39.6" y1="432.3" x2="39.6" y2="516.2" stroke="#231f20" stroke-width="1.25" stroke-linecap="butt"/>
<line x1="39" y1="515.6" x2="160.4" y2="515.6" stroke="#231f20" stroke-width="1.25" stroke-linecap="butt"/>
<line x1="36.6" y1="435.3" x2="39.6" y2="435.3" stroke="#231f20" stroke-width="1.0" stroke-linecap="butt"/>
<text x="32.7" y="438.4" font-size="8.7" text-anchor="end" fill="#231f20" stroke="#231f20" stroke-width="0.12">100</text>
<line x1="36.6" y1="455.4" x2="39.6" y2="455.4" stroke="#231f20" stroke-width="1.0" stroke-linecap="butt"/>
<text x="32.7" y="458.5" font-size="8.7" text-anchor="end" fill="#231f20" stroke="#231f20" stroke-width="0.12">10</text>
<line x1="36.6" y1="475.4" x2="39.6" y2="475.4" stroke="#231f20" stroke-width="1.0" stroke-linecap="butt"/>
<text x="32.7" y="478.5" font-size="8.7" text-anchor="end" fill="#231f20" stroke="#231f20" stroke-width="0.12">1</text>
<line x1="36.6" y1="495.4" x2="39.6" y2="495.4" stroke="#231f20" stroke-width="1.0" stroke-linecap="butt"/>
<text x="32.7" y="498.5" font-size="8.7" text-anchor="end" fill="#231f20" stroke="#231f20" stroke-width="0.12">0.1</text>
<line x1="36.6" y1="515.4" x2="39.6" y2="515.4" stroke="#231f20" stroke-width="1.0" stroke-linecap="butt"/>
<text x="32.7" y="518.5" font-size="8.7" text-anchor="end" fill="#231f20" stroke="#231f20" stroke-width="0.12">0.01</text>
<line x1="54.6" y1="515.6" x2="54.6" y2="518.6" stroke="#231f20" stroke-width="1.1" stroke-linecap="butt"/>
<text x="54.6" y="530" font-size="9.0" text-anchor="middle" fill="#231f20" stroke="#231f20" stroke-width="0.12">4</text>
<line x1="84.8" y1="515.6" x2="84.8" y2="518.6" stroke="#231f20" stroke-width="1.1" stroke-linecap="butt"/>
<text x="84.8" y="530" font-size="9.0" text-anchor="middle" fill="#231f20" stroke="#231f20" stroke-width="0.12">8</text>
<line x1="115" y1="515.6" x2="115" y2="518.6" stroke="#231f20" stroke-width="1.1" stroke-linecap="butt"/>
<text x="115" y="530" font-size="9.0" text-anchor="middle" fill="#231f20" stroke="#231f20" stroke-width="0.12">12</text>
<line x1="145.2" y1="515.6" x2="145.2" y2="518.6" stroke="#231f20" stroke-width="1.1" stroke-linecap="butt"/>
<text x="145.2" y="530" font-size="9.0" text-anchor="middle" fill="#231f20" stroke="#231f20" stroke-width="0.12">16</text>
<text x="100.9" y="544.5" font-size="10" text-anchor="middle" fill="#231f20" textLength="83.6" lengthAdjust="spacingAndGlyphs" stroke="#231f20" stroke-width="0.12">Weeks post-transplant</text>
<text x="9.7" y="473.7" font-size="8.8" text-anchor="middle" fill="#231f20" transform="rotate(-90 9.7 473.7)" textLength="86.8" lengthAdjust="spacingAndGlyphs" stroke="#231f20" stroke-width="0.12">CD45.2 chimerism (%)</text>
<text x="42.9" y="421.9" font-size="8.6" text-anchor="start" fill="#1b4a82" font-weight="bold" textLength="45.8" lengthAdjust="spacingAndGlyphs">ITD/NHD13</text>
<text x="42.9" y="431.7" font-size="8.6" text-anchor="start" fill="#bb143b" font-weight="bold" textLength="40.8" lengthAdjust="spacingAndGlyphs">ITD/RUNX</text>
<rect x="220.4" y="475.4" width="117.8" height="40.2" fill="#e4e2e6"/>
<line x1="221" y1="475.4" x2="338.2" y2="475.4" stroke="#2a2a2a" stroke-width="1.1" stroke-linecap="butt" stroke-dasharray="2.9,2.0"/>
<polyline points="235.4,468.2 265.6,490 295.8,515.5" fill="none" stroke="#b3123a" stroke-width="1.1" stroke-linejoin="round"/>
<circle cx="235.4" cy="468.2" r="0.95" fill="#b3123a"/>
<circle cx="265.6" cy="490" r="0.95" fill="#b3123a"/>
<circle cx="295.8" cy="515.5" r="0.95" fill="#b3123a"/>
<polyline points="235.4,488.9 265.6,504.3 295.8,515.5" fill="none" stroke="#b3123a" stroke-width="1.1" stroke-linejoin="round"/>
<circle cx="235.4" cy="488.9" r="0.95" fill="#b3123a"/>
<circle cx="265.6" cy="504.3" r="0.95" fill="#b3123a"/>
<circle cx="295.8" cy="515.5" r="0.95" fill="#b3123a"/>
<polyline points="295.8,515.5 326,491.8" fill="none" stroke="#b3123a" stroke-width="1.1" stroke-linejoin="round"/>
<circle cx="295.8" cy="515.5" r="0.95" fill="#b3123a"/>
<circle cx="326" cy="491.8" r="0.95" fill="#b3123a"/>
<polyline points="235.4,505.3 265.6,514.9 295.8,515.5 326,515.5" fill="none" stroke="#b3123a" stroke-width="1.1" stroke-linejoin="round"/>
<circle cx="235.4" cy="505.3" r="0.95" fill="#b3123a"/>
<circle cx="265.6" cy="514.9" r="0.95" fill="#b3123a"/>
<circle cx="295.8" cy="515.5" r="0.95" fill="#b3123a"/>
<circle cx="326" cy="515.5" r="0.95" fill="#b3123a"/>
<polyline points="235.4,506.6 265.6,515.2 295.8,515.5 326,515.5" fill="none" stroke="#b3123a" stroke-width="1.1" stroke-linejoin="round"/>
<circle cx="235.4" cy="506.6" r="0.95" fill="#b3123a"/>
<circle cx="265.6" cy="515.2" r="0.95" fill="#b3123a"/>
<circle cx="295.8" cy="515.5" r="0.95" fill="#b3123a"/>
<circle cx="326" cy="515.5" r="0.95" fill="#b3123a"/>
<polyline points="235.4,508.5 265.6,515.5 295.8,515.5 326,515.5" fill="none" stroke="#b3123a" stroke-width="1.1" stroke-linejoin="round"/>
<circle cx="235.4" cy="508.5" r="0.95" fill="#b3123a"/>
<circle cx="265.6" cy="515.5" r="0.95" fill="#b3123a"/>
<circle cx="295.8" cy="515.5" r="0.95" fill="#b3123a"/>
<circle cx="326" cy="515.5" r="0.95" fill="#b3123a"/>
<polyline points="235.4,436.2 265.6,435.8 295.8,436.5 326,436.5" fill="none" stroke="#18467d" stroke-width="1.1" stroke-linejoin="round"/>
<circle cx="235.4" cy="436.2" r="0.95" fill="#18467d"/>
<circle cx="265.6" cy="435.8" r="0.95" fill="#18467d"/>
<circle cx="295.8" cy="436.5" r="0.95" fill="#18467d"/>
<circle cx="326" cy="436.5" r="0.95" fill="#18467d"/>
<polyline points="235.4,437.8 265.6,437 295.8,437.5 326,438.2" fill="none" stroke="#18467d" stroke-width="1.1" stroke-linejoin="round"/>
<circle cx="235.4" cy="437.8" r="0.95" fill="#18467d"/>
<circle cx="265.6" cy="437" r="0.95" fill="#18467d"/>
<circle cx="295.8" cy="437.5" r="0.95" fill="#18467d"/>
<circle cx="326" cy="438.2" r="0.95" fill="#18467d"/>
<polyline points="235.4,439.2 265.6,438.3 295.8,438.8 326,439.8" fill="none" stroke="#18467d" stroke-width="1.1" stroke-linejoin="round"/>
<circle cx="235.4" cy="439.2" r="0.95" fill="#18467d"/>
<circle cx="265.6" cy="438.3" r="0.95" fill="#18467d"/>
<circle cx="295.8" cy="438.8" r="0.95" fill="#18467d"/>
<circle cx="326" cy="439.8" r="0.95" fill="#18467d"/>
<polyline points="235.4,440.6 265.6,439.6 295.8,440 326,441.4" fill="none" stroke="#18467d" stroke-width="1.1" stroke-linejoin="round"/>
<circle cx="235.4" cy="440.6" r="0.95" fill="#18467d"/>
<circle cx="265.6" cy="439.6" r="0.95" fill="#18467d"/>
<circle cx="295.8" cy="440" r="0.95" fill="#18467d"/>
<circle cx="326" cy="441.4" r="0.95" fill="#18467d"/>
<polyline points="235.4,442.2 265.6,441 295.8,441.3 326,442.8" fill="none" stroke="#18467d" stroke-width="1.1" stroke-linejoin="round"/>
<circle cx="235.4" cy="442.2" r="0.95" fill="#18467d"/>
<circle cx="265.6" cy="441" r="0.95" fill="#18467d"/>
<circle cx="295.8" cy="441.3" r="0.95" fill="#18467d"/>
<circle cx="326" cy="442.8" r="0.95" fill="#18467d"/>
<polyline points="235.4,443.8 265.6,442.5 295.8,442.6 326,444.2" fill="none" stroke="#18467d" stroke-width="1.1" stroke-linejoin="round"/>
<circle cx="235.4" cy="443.8" r="0.95" fill="#18467d"/>
<circle cx="265.6" cy="442.5" r="0.95" fill="#18467d"/>
<circle cx="295.8" cy="442.6" r="0.95" fill="#18467d"/>
<circle cx="326" cy="444.2" r="0.95" fill="#18467d"/>
<polyline points="235.4,440.6 265.6,443 295.8,460.4 326,458.5" fill="none" stroke="#18467d" stroke-width="1.1" stroke-linejoin="round"/>
<circle cx="235.4" cy="440.6" r="0.95" fill="#18467d"/>
<circle cx="265.6" cy="443" r="0.95" fill="#18467d"/>
<circle cx="295.8" cy="460.4" r="0.95" fill="#18467d"/>
<circle cx="326" cy="458.5" r="0.95" fill="#18467d"/>
<polyline points="235.4,441.4 265.6,443.5 295.8,460.4 326,462.3" fill="none" stroke="#18467d" stroke-width="1.1" stroke-linejoin="round"/>
<circle cx="235.4" cy="441.4" r="0.95" fill="#18467d"/>
<circle cx="265.6" cy="443.5" r="0.95" fill="#18467d"/>
<circle cx="295.8" cy="460.4" r="0.95" fill="#18467d"/>
<circle cx="326" cy="462.3" r="0.95" fill="#18467d"/>
<polyline points="235.4,442.2 265.6,451.2 295.8,461.9 326,471.9" fill="none" stroke="#18467d" stroke-width="1.1" stroke-linejoin="round"/>
<circle cx="235.4" cy="442.2" r="0.95" fill="#18467d"/>
<circle cx="265.6" cy="451.2" r="0.95" fill="#18467d"/>
<circle cx="295.8" cy="461.9" r="0.95" fill="#18467d"/>
<circle cx="326" cy="471.9" r="0.95" fill="#18467d"/>
<line x1="235.4" y1="436.2" x2="235.4" y2="443.8" stroke="#2b5a8e" stroke-width="0.8" stroke-linecap="butt"/>
<line x1="265.6" y1="435.8" x2="265.6" y2="443.5" stroke="#2b5a8e" stroke-width="0.8" stroke-linecap="butt"/>
<line x1="295.8" y1="436.5" x2="295.8" y2="442.6" stroke="#2b5a8e" stroke-width="0.8" stroke-linecap="butt"/>
<line x1="326" y1="436.5" x2="326" y2="444.2" stroke="#2b5a8e" stroke-width="0.8" stroke-linecap="butt"/>
<line x1="220.4" y1="432.3" x2="220.4" y2="516.2" stroke="#231f20" stroke-width="1.25" stroke-linecap="butt"/>
<line x1="219.8" y1="515.6" x2="341.2" y2="515.6" stroke="#231f20" stroke-width="1.25" stroke-linecap="butt"/>
<line x1="217.4" y1="435.3" x2="220.4" y2="435.3" stroke="#231f20" stroke-width="1.0" stroke-linecap="butt"/>
<text x="213.5" y="438.4" font-size="8.7" text-anchor="end" fill="#231f20" stroke="#231f20" stroke-width="0.12">100</text>
<line x1="217.4" y1="455.4" x2="220.4" y2="455.4" stroke="#231f20" stroke-width="1.0" stroke-linecap="butt"/>
<text x="213.5" y="458.5" font-size="8.7" text-anchor="end" fill="#231f20" stroke="#231f20" stroke-width="0.12">10</text>
<line x1="217.4" y1="475.4" x2="220.4" y2="475.4" stroke="#231f20" stroke-width="1.0" stroke-linecap="butt"/>
<text x="213.5" y="478.5" font-size="8.7" text-anchor="end" fill="#231f20" stroke="#231f20" stroke-width="0.12">1</text>
<line x1="217.4" y1="495.4" x2="220.4" y2="495.4" stroke="#231f20" stroke-width="1.0" stroke-linecap="butt"/>
<text x="213.5" y="498.5" font-size="8.7" text-anchor="end" fill="#231f20" stroke="#231f20" stroke-width="0.12">0.1</text>
<line x1="217.4" y1="515.4" x2="220.4" y2="515.4" stroke="#231f20" stroke-width="1.0" stroke-linecap="butt"/>
<text x="213.5" y="518.5" font-size="8.7" text-anchor="end" fill="#231f20" stroke="#231f20" stroke-width="0.12">0.01</text>
<line x1="235.4" y1="515.6" x2="235.4" y2="518.6" stroke="#231f20" stroke-width="1.1" stroke-linecap="butt"/>
<text x="235.4" y="530" font-size="9.0" text-anchor="middle" fill="#231f20" stroke="#231f20" stroke-width="0.12">4</text>
<line x1="265.6" y1="515.6" x2="265.6" y2="518.6" stroke="#231f20" stroke-width="1.1" stroke-linecap="butt"/>
<text x="265.6" y="530" font-size="9.0" text-anchor="middle" fill="#231f20" stroke="#231f20" stroke-width="0.12">8</text>
<line x1="295.8" y1="515.6" x2="295.8" y2="518.6" stroke="#231f20" stroke-width="1.1" stroke-linecap="butt"/>
<text x="295.8" y="530" font-size="9.0" text-anchor="middle" fill="#231f20" stroke="#231f20" stroke-width="0.12">12</text>
<line x1="326" y1="515.6" x2="326" y2="518.6" stroke="#231f20" stroke-width="1.1" stroke-linecap="butt"/>
<text x="326" y="530" font-size="9.0" text-anchor="middle" fill="#231f20" stroke="#231f20" stroke-width="0.12">16</text>
<text x="281.7" y="544.5" font-size="10" text-anchor="middle" fill="#231f20" textLength="83.6" lengthAdjust="spacingAndGlyphs" stroke="#231f20" stroke-width="0.12">Weeks post-transplant</text>
<text x="189.5" y="473.7" font-size="8.8" text-anchor="middle" fill="#231f20" transform="rotate(-90 189.5 473.7)" textLength="88.5" lengthAdjust="spacingAndGlyphs" stroke="#231f20" stroke-width="0.12">Myeloid chimerism (%)</text>
<text x="223.7" y="421.9" font-size="8.6" text-anchor="start" fill="#1b4a82" font-weight="bold" textLength="45.8" lengthAdjust="spacingAndGlyphs">ITD/NHD13</text>
<text x="223.7" y="431.7" font-size="8.6" text-anchor="start" fill="#bb143b" font-weight="bold" textLength="40.8" lengthAdjust="spacingAndGlyphs">ITD/RUNX</text>
<rect x="398.4" y="475.4" width="117.8" height="40.2" fill="#e4e2e6"/>
<line x1="399" y1="475.4" x2="516.2" y2="475.4" stroke="#2a2a2a" stroke-width="1.1" stroke-linecap="butt" stroke-dasharray="2.9,2.0"/>
<polyline points="413.4,463.8 443.6,474.4 473.8,498.1 504,481.8" fill="none" stroke="#b3123a" stroke-width="1.1" stroke-linejoin="round"/>
<circle cx="413.4" cy="463.8" r="0.95" fill="#b3123a"/>
<circle cx="443.6" cy="474.4" r="0.95" fill="#b3123a"/>
<circle cx="473.8" cy="498.1" r="0.95" fill="#b3123a"/>
<circle cx="504" cy="481.8" r="0.95" fill="#b3123a"/>
<polyline points="413.4,475 443.6,515.7" fill="none" stroke="#b3123a" stroke-width="1.1" stroke-linejoin="round"/>
<circle cx="413.4" cy="475" r="0.95" fill="#b3123a"/>
<circle cx="443.6" cy="515.7" r="0.95" fill="#b3123a"/>
<polyline points="413.4,515.7 443.6,481.8 473.8,515.7" fill="none" stroke="#b3123a" stroke-width="1.1" stroke-linejoin="round"/>
<circle cx="413.4" cy="515.7" r="0.95" fill="#b3123a"/>
<circle cx="443.6" cy="481.8" r="0.95" fill="#b3123a"/>
<circle cx="473.8" cy="515.7" r="0.95" fill="#b3123a"/>
<polyline points="413.4,484 443.6,506.1 473.8,508.3 504,502" fill="none" stroke="#b3123a" stroke-width="1.1" stroke-linejoin="round"/>
<circle cx="413.4" cy="484" r="0.95" fill="#b3123a"/>
<circle cx="443.6" cy="506.1" r="0.95" fill="#b3123a"/>
<circle cx="473.8" cy="508.3" r="0.95" fill="#b3123a"/>
<circle cx="504" cy="502" r="0.95" fill="#b3123a"/>
<polyline points="413.4,489.2 443.6,507.2 473.8,515.7" fill="none" stroke="#b3123a" stroke-width="1.1" stroke-linejoin="round"/>
<circle cx="413.4" cy="489.2" r="0.95" fill="#b3123a"/>
<circle cx="443.6" cy="507.2" r="0.95" fill="#b3123a"/>
<circle cx="473.8" cy="515.7" r="0.95" fill="#b3123a"/>
<polyline points="413.4,491.3 443.6,515.7 473.8,508.3 504,500.9" fill="none" stroke="#b3123a" stroke-width="1.1" stroke-linejoin="round"/>
<circle cx="413.4" cy="491.3" r="0.95" fill="#b3123a"/>
<circle cx="443.6" cy="515.7" r="0.95" fill="#b3123a"/>
<circle cx="473.8" cy="508.3" r="0.95" fill="#b3123a"/>
<circle cx="504" cy="500.9" r="0.95" fill="#b3123a"/>
<polyline points="413.4,493.5 443.6,508.3 473.8,511.5 504,515.7" fill="none" stroke="#b3123a" stroke-width="1.1" stroke-linejoin="round"/>
<circle cx="413.4" cy="493.5" r="0.95" fill="#b3123a"/>
<circle cx="443.6" cy="508.3" r="0.95" fill="#b3123a"/>
<circle cx="473.8" cy="511.5" r="0.95" fill="#b3123a"/>
<circle cx="504" cy="515.7" r="0.95" fill="#b3123a"/>
<polyline points="473.8,515.7 504,503.5" fill="none" stroke="#b3123a" stroke-width="1.1" stroke-linejoin="round"/>
<circle cx="473.8" cy="515.7" r="0.95" fill="#b3123a"/>
<circle cx="504" cy="503.5" r="0.95" fill="#b3123a"/>
<polyline points="413.4,440.6 443.6,441.6 473.8,442.3 504,443.8" fill="none" stroke="#18467d" stroke-width="1.1" stroke-linejoin="round"/>
<circle cx="413.4" cy="440.6" r="0.95" fill="#18467d"/>
<circle cx="443.6" cy="441.6" r="0.95" fill="#18467d"/>
<circle cx="473.8" cy="442.3" r="0.95" fill="#18467d"/>
<circle cx="504" cy="443.8" r="0.95" fill="#18467d"/>
<polyline points="413.4,440.2 443.6,461.7 473.8,486.7 504,481.8" fill="none" stroke="#18467d" stroke-width="1.1" stroke-linejoin="round"/>
<circle cx="413.4" cy="440.2" r="0.95" fill="#18467d"/>
<circle cx="443.6" cy="461.7" r="0.95" fill="#18467d"/>
<circle cx="473.8" cy="486.7" r="0.95" fill="#18467d"/>
<circle cx="504" cy="481.8" r="0.95" fill="#18467d"/>
<polyline points="413.4,446.9 443.6,448 473.8,442.7 504,443.8" fill="none" stroke="#18467d" stroke-width="1.1" stroke-linejoin="round"/>
<circle cx="413.4" cy="446.9" r="0.95" fill="#18467d"/>
<circle cx="443.6" cy="448" r="0.95" fill="#18467d"/>
<circle cx="473.8" cy="442.7" r="0.95" fill="#18467d"/>
<circle cx="504" cy="443.8" r="0.95" fill="#18467d"/>
<polyline points="413.4,449 443.6,450.1 473.8,449 504,449" fill="none" stroke="#18467d" stroke-width="1.1" stroke-linejoin="round"/>
<circle cx="413.4" cy="449" r="0.95" fill="#18467d"/>
<circle cx="443.6" cy="450.1" r="0.95" fill="#18467d"/>
<circle cx="473.8" cy="449" r="0.95" fill="#18467d"/>
<circle cx="504" cy="449" r="0.95" fill="#18467d"/>
<polyline points="413.4,451.2 443.6,451.2 473.8,455.4 504,457.5" fill="none" stroke="#18467d" stroke-width="1.1" stroke-linejoin="round"/>
<circle cx="413.4" cy="451.2" r="0.95" fill="#18467d"/>
<circle cx="443.6" cy="451.2" r="0.95" fill="#18467d"/>
<circle cx="473.8" cy="455.4" r="0.95" fill="#18467d"/>
<circle cx="504" cy="457.5" r="0.95" fill="#18467d"/>
<polyline points="413.4,454.3 443.6,460.7 473.8,461.7 504,464.9" fill="none" stroke="#18467d" stroke-width="1.1" stroke-linejoin="round"/>
<circle cx="413.4" cy="454.3" r="0.95" fill="#18467d"/>
<circle cx="443.6" cy="460.7" r="0.95" fill="#18467d"/>
<circle cx="473.8" cy="461.7" r="0.95" fill="#18467d"/>
<circle cx="504" cy="464.9" r="0.95" fill="#18467d"/>
<polyline points="413.4,455.4 443.6,461.7 473.8,466 504,469.1" fill="none" stroke="#18467d" stroke-width="1.1" stroke-linejoin="round"/>
<circle cx="413.4" cy="455.4" r="0.95" fill="#18467d"/>
<circle cx="443.6" cy="461.7" r="0.95" fill="#18467d"/>
<circle cx="473.8" cy="466" r="0.95" fill="#18467d"/>
<circle cx="504" cy="469.1" r="0.95" fill="#18467d"/>
<polyline points="413.4,463.8 443.6,461.7 473.8,467 504,470.2" fill="none" stroke="#18467d" stroke-width="1.1" stroke-linejoin="round"/>
<circle cx="413.4" cy="463.8" r="0.95" fill="#18467d"/>
<circle cx="443.6" cy="461.7" r="0.95" fill="#18467d"/>
<circle cx="473.8" cy="467" r="0.95" fill="#18467d"/>
<circle cx="504" cy="470.2" r="0.95" fill="#18467d"/>
<polyline points="413.4,468.1 443.6,466 473.8,468.1 504,470.2" fill="none" stroke="#18467d" stroke-width="1.1" stroke-linejoin="round"/>
<circle cx="413.4" cy="468.1" r="0.95" fill="#18467d"/>
<circle cx="443.6" cy="466" r="0.95" fill="#18467d"/>
<circle cx="473.8" cy="468.1" r="0.95" fill="#18467d"/>
<circle cx="504" cy="470.2" r="0.95" fill="#18467d"/>
<polyline points="413.4,451.2 443.6,463.8 473.8,474.4 504,478.7" fill="none" stroke="#18467d" stroke-width="1.1" stroke-linejoin="round"/>
<circle cx="413.4" cy="451.2" r="0.95" fill="#18467d"/>
<circle cx="443.6" cy="463.8" r="0.95" fill="#18467d"/>
<circle cx="473.8" cy="474.4" r="0.95" fill="#18467d"/>
<circle cx="504" cy="478.7" r="0.95" fill="#18467d"/>
<polyline points="413.4,443.8 443.6,458 473.8,475.5 504,484.6" fill="none" stroke="#18467d" stroke-width="1.1" stroke-linejoin="round"/>
<circle cx="413.4" cy="443.8" r="0.95" fill="#18467d"/>
<circle cx="443.6" cy="458" r="0.95" fill="#18467d"/>
<circle cx="473.8" cy="475.5" r="0.95" fill="#18467d"/>
<circle cx="504" cy="484.6" r="0.95" fill="#18467d"/>
<polyline points="413.4,448 443.6,455.4 473.8,450.1 504,452.2" fill="none" stroke="#18467d" stroke-width="1.1" stroke-linejoin="round"/>
<circle cx="413.4" cy="448" r="0.95" fill="#18467d"/>
<circle cx="443.6" cy="455.4" r="0.95" fill="#18467d"/>
<circle cx="473.8" cy="450.1" r="0.95" fill="#18467d"/>
<circle cx="504" cy="452.2" r="0.95" fill="#18467d"/>
<polyline points="413.4,451.2 443.6,451.2 473.8,450.1 504,448.6" fill="none" stroke="#b3123a" stroke-width="1.1" stroke-linejoin="round"/>
<circle cx="413.4" cy="451.2" r="0.95" fill="#b3123a"/>
<circle cx="443.6" cy="451.2" r="0.95" fill="#b3123a"/>
<circle cx="473.8" cy="450.1" r="0.95" fill="#b3123a"/>
<circle cx="504" cy="448.6" r="0.95" fill="#b3123a"/>
<line x1="398.4" y1="432.3" x2="398.4" y2="516.2" stroke="#231f20" stroke-width="1.25" stroke-linecap="butt"/>
<line x1="397.8" y1="515.6" x2="519.2" y2="515.6" stroke="#231f20" stroke-width="1.25" stroke-linecap="butt"/>
<line x1="395.4" y1="435.3" x2="398.4" y2="435.3" stroke="#231f20" stroke-width="1.0" stroke-linecap="butt"/>
<text x="391.5" y="438.4" font-size="8.7" text-anchor="end" fill="#231f20" stroke="#231f20" stroke-width="0.12">100</text>
<line x1="395.4" y1="455.4" x2="398.4" y2="455.4" stroke="#231f20" stroke-width="1.0" stroke-linecap="butt"/>
<text x="391.5" y="458.5" font-size="8.7" text-anchor="end" fill="#231f20" stroke="#231f20" stroke-width="0.12">10</text>
<line x1="395.4" y1="475.4" x2="398.4" y2="475.4" stroke="#231f20" stroke-width="1.0" stroke-linecap="butt"/>
<text x="391.5" y="478.5" font-size="8.7" text-anchor="end" fill="#231f20" stroke="#231f20" stroke-width="0.12">1</text>
<line x1="395.4" y1="495.4" x2="398.4" y2="495.4" stroke="#231f20" stroke-width="1.0" stroke-linecap="butt"/>
<text x="391.5" y="498.5" font-size="8.7" text-anchor="end" fill="#231f20" stroke="#231f20" stroke-width="0.12">0.1</text>
<line x1="395.4" y1="515.4" x2="398.4" y2="515.4" stroke="#231f20" stroke-width="1.0" stroke-linecap="butt"/>
<text x="391.5" y="518.5" font-size="8.7" text-anchor="end" fill="#231f20" stroke="#231f20" stroke-width="0.12">0.01</text>
<line x1="413.4" y1="515.6" x2="413.4" y2="518.6" stroke="#231f20" stroke-width="1.1" stroke-linecap="butt"/>
<text x="413.4" y="530" font-size="9.0" text-anchor="middle" fill="#231f20" stroke="#231f20" stroke-width="0.12">4</text>
<line x1="443.6" y1="515.6" x2="443.6" y2="518.6" stroke="#231f20" stroke-width="1.1" stroke-linecap="butt"/>
<text x="443.6" y="530" font-size="9.0" text-anchor="middle" fill="#231f20" stroke="#231f20" stroke-width="0.12">8</text>
<line x1="473.8" y1="515.6" x2="473.8" y2="518.6" stroke="#231f20" stroke-width="1.1" stroke-linecap="butt"/>
<text x="473.8" y="530" font-size="9.0" text-anchor="middle" fill="#231f20" stroke="#231f20" stroke-width="0.12">12</text>
<line x1="504" y1="515.6" x2="504" y2="518.6" stroke="#231f20" stroke-width="1.1" stroke-linecap="butt"/>
<text x="504" y="530" font-size="9.0" text-anchor="middle" fill="#231f20" stroke="#231f20" stroke-width="0.12">16</text>
<text x="459.7" y="544.5" font-size="10" text-anchor="middle" fill="#231f20" textLength="83.6" lengthAdjust="spacingAndGlyphs" stroke="#231f20" stroke-width="0.12">Weeks post-transplant</text>
<text x="368.9" y="473.7" font-size="8.8" text-anchor="middle" fill="#231f20" transform="rotate(-90 368.9 473.7)" textLength="78.8" lengthAdjust="spacingAndGlyphs" stroke="#231f20" stroke-width="0.12">B-cell chimerism (%)</text>
<text x="401.7" y="421.9" font-size="8.6" text-anchor="start" fill="#1b4a82" font-weight="bold" textLength="45.8" lengthAdjust="spacingAndGlyphs">ITD/NHD13</text>
<text x="401.7" y="431.7" font-size="8.6" text-anchor="start" fill="#bb143b" font-weight="bold" textLength="40.8" lengthAdjust="spacingAndGlyphs">ITD/RUNX</text>
<rect x="204" y="616.9" width="14.3" height="62.4" fill="#114a8a"/>
<rect x="227" y="674.5" width="13.8" height="4.8" fill="#c8102e"/>
<line x1="196.2" y1="596.3" x2="196.2" y2="679.9" stroke="#231f20" stroke-width="1.25" stroke-linecap="butt"/>
<line x1="195.6" y1="679.3" x2="249.3" y2="679.3" stroke="#231f20" stroke-width="1.25" stroke-linecap="butt"/>
<line x1="193.2" y1="679.3" x2="196.2" y2="679.3" stroke="#231f20" stroke-width="1.0" stroke-linecap="butt"/>
<text x="189" y="682.4" font-size="8.7" text-anchor="end" fill="#231f20" stroke="#231f20" stroke-width="0.12">0</text>
<line x1="193.2" y1="663.3" x2="196.2" y2="663.3" stroke="#231f20" stroke-width="1.0" stroke-linecap="butt"/>
<text x="189" y="666.4" font-size="8.7" text-anchor="end" fill="#231f20" stroke="#231f20" stroke-width="0.12">20</text>
<line x1="193.2" y1="647.3" x2="196.2" y2="647.3" stroke="#231f20" stroke-width="1.0" stroke-linecap="butt"/>
<text x="189" y="650.4" font-size="8.7" text-anchor="end" fill="#231f20" stroke="#231f20" stroke-width="0.12">40</text>
<line x1="193.2" y1="631.3" x2="196.2" y2="631.3" stroke="#231f20" stroke-width="1.0" stroke-linecap="butt"/>
<text x="189" y="634.4" font-size="8.7" text-anchor="end" fill="#231f20" stroke="#231f20" stroke-width="0.12">60</text>
<line x1="193.2" y1="615.3" x2="196.2" y2="615.3" stroke="#231f20" stroke-width="1.0" stroke-linecap="butt"/>
<text x="189" y="618.4" font-size="8.7" text-anchor="end" fill="#231f20" stroke="#231f20" stroke-width="0.12">80</text>
<line x1="193.2" y1="599.3" x2="196.2" y2="599.3" stroke="#231f20" stroke-width="1.0" stroke-linecap="butt"/>
<text x="189" y="602.4" font-size="8.7" text-anchor="end" fill="#231f20" stroke="#231f20" stroke-width="0.12">100</text>
<line x1="211.1" y1="679.3" x2="211.1" y2="682.3" stroke="#231f20" stroke-width="1.1" stroke-linecap="butt"/>
<line x1="234" y1="679.3" x2="234" y2="682.3" stroke="#231f20" stroke-width="1.1" stroke-linecap="butt"/>
<text x="214.2" y="686.1" font-size="8.8" text-anchor="end" fill="#231f20" transform="rotate(-90 214.2 686.1)" textLength="47" lengthAdjust="spacingAndGlyphs" stroke="#231f20" stroke-width="0.12">ITD/NHD13</text>
<text x="237.1" y="686.1" font-size="8.8" text-anchor="end" fill="#231f20" transform="rotate(-90 237.1 686.1)" textLength="41.6" lengthAdjust="spacingAndGlyphs" stroke="#231f20" stroke-width="0.12">ITD/RUNX</text>
<text x="218.6" y="603.1" font-size="8.2" fill="#231f20"><tspan font-style="italic">P</tspan> &lt; .001</text>
<text x="168" y="637.5" font-size="8.6" text-anchor="middle" fill="#231f20" transform="rotate(-90 168 637.5)" textLength="112" lengthAdjust="spacingAndGlyphs" stroke="#231f20" stroke-width="0.12">Multineage reconstituted (%)</text>
<rect x="322.3" y="598" width="14.5" height="78.6" fill="#114a8a"/>
<rect x="345" y="671.81" width="14.5" height="4.79" fill="#c8102e"/>
<line x1="314.6" y1="593.8" x2="314.6" y2="677.2" stroke="#231f20" stroke-width="1.25" stroke-linecap="butt"/>
<line x1="314" y1="676.6" x2="367.5" y2="676.6" stroke="#231f20" stroke-width="1.25" stroke-linecap="butt"/>
<line x1="311.6" y1="676.6" x2="314.6" y2="676.6" stroke="#231f20" stroke-width="1.0" stroke-linecap="butt"/>
<text x="307.4" y="679.7" font-size="8.7" text-anchor="end" fill="#231f20" stroke="#231f20" stroke-width="0.12">0</text>
<line x1="311.6" y1="660.64" x2="314.6" y2="660.64" stroke="#231f20" stroke-width="1.0" stroke-linecap="butt"/>
<text x="307.4" y="663.74" font-size="8.7" text-anchor="end" fill="#231f20" stroke="#231f20" stroke-width="0.12">20</text>
<line x1="311.6" y1="644.68" x2="314.6" y2="644.68" stroke="#231f20" stroke-width="1.0" stroke-linecap="butt"/>
<text x="307.4" y="647.78" font-size="8.7" text-anchor="end" fill="#231f20" stroke="#231f20" stroke-width="0.12">40</text>
<line x1="311.6" y1="628.72" x2="314.6" y2="628.72" stroke="#231f20" stroke-width="1.0" stroke-linecap="butt"/>
<text x="307.4" y="631.82" font-size="8.7" text-anchor="end" fill="#231f20" stroke="#231f20" stroke-width="0.12">60</text>
<line x1="311.6" y1="612.76" x2="314.6" y2="612.76" stroke="#231f20" stroke-width="1.0" stroke-linecap="butt"/>
<text x="307.4" y="615.86" font-size="8.7" text-anchor="end" fill="#231f20" stroke="#231f20" stroke-width="0.12">80</text>
<line x1="311.6" y1="596.8" x2="314.6" y2="596.8" stroke="#231f20" stroke-width="1.0" stroke-linecap="butt"/>
<text x="307.4" y="599.9" font-size="8.7" text-anchor="end" fill="#231f20" stroke="#231f20" stroke-width="0.12">100</text>
<line x1="329.2" y1="676.6" x2="329.2" y2="679.6" stroke="#231f20" stroke-width="1.1" stroke-linecap="butt"/>
<line x1="352.6" y1="676.6" x2="352.6" y2="679.6" stroke="#231f20" stroke-width="1.1" stroke-linecap="butt"/>
<text x="332.3" y="683.6" font-size="8.8" text-anchor="end" fill="#231f20" transform="rotate(-90 332.3 683.6)" textLength="47" lengthAdjust="spacingAndGlyphs" stroke="#231f20" stroke-width="0.12">ITD/NHD13</text>
<text x="355.7" y="683.6" font-size="8.8" text-anchor="end" fill="#231f20" transform="rotate(-90 355.7 683.6)" textLength="41.6" lengthAdjust="spacingAndGlyphs" stroke="#231f20" stroke-width="0.12">ITD/RUNX</text>
<text x="343.2" y="599.5" font-size="8.2" fill="#231f20"><tspan font-style="italic">P</tspan> &lt; .001</text>
<text x="287.6" y="633.8" font-size="8.6" text-anchor="middle" fill="#231f20" transform="rotate(-90 287.6 633.8)" textLength="100" lengthAdjust="spacingAndGlyphs" stroke="#231f20" stroke-width="0.12">Myeloid reconstituted (%)</text>
</svg></body></html>
